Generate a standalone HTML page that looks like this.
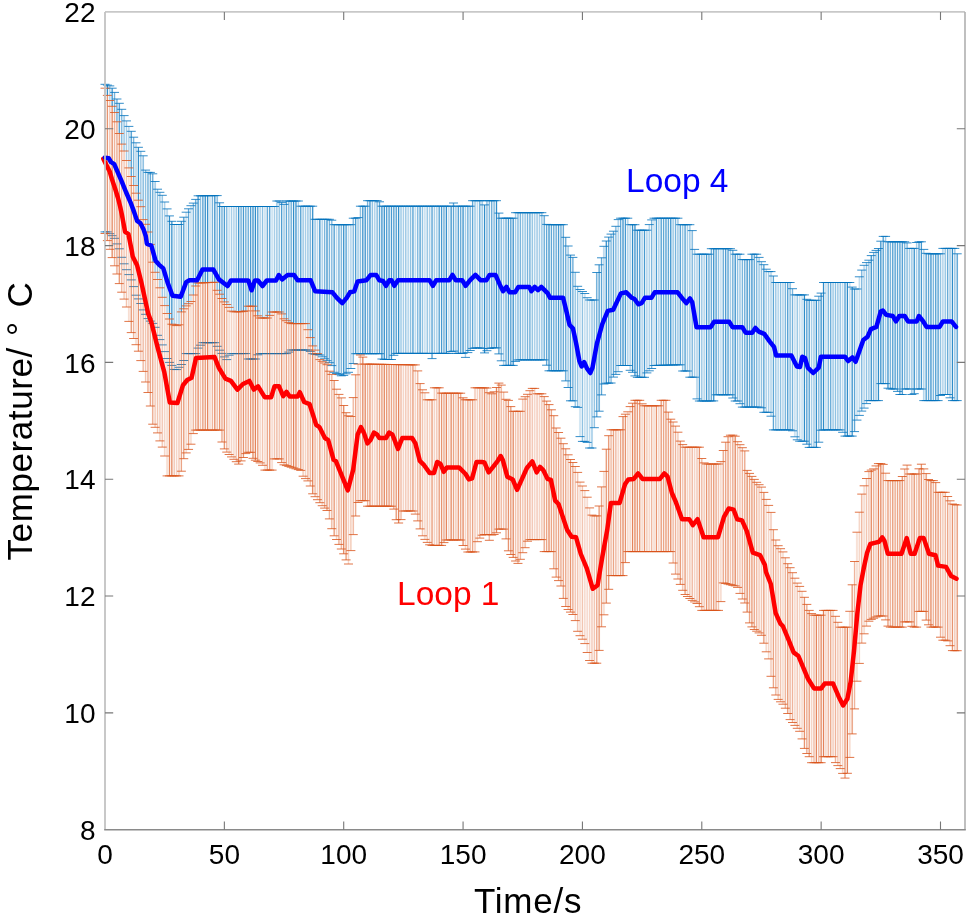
<!DOCTYPE html>
<html><head><meta charset="utf-8"><style>
html,body{margin:0;padding:0;background:#fff;}
svg{display:block;}
text{font-family:"Liberation Sans",Arial,sans-serif;}
</style></head><body>
<svg width="968" height="917" viewBox="0 0 968 917">
<rect width="968" height="917" fill="#fff"/>
<path d="M103.81 84.3h2.387V88.2h-2.387ZM106.19 85.1h2.387V95.4h-2.387ZM108.58 85.9h2.387V100.5h-2.387ZM110.97 88.2h2.387V106.3h-2.387ZM113.35 92.4h2.387V112.5h-2.387ZM115.74 99.0h2.387V121.8h-2.387ZM118.13 103.3h2.387V133.5h-2.387ZM120.52 109.3h2.387V144.1h-2.387ZM122.90 115.6h2.387V151.0h-2.387ZM125.29 120.9h2.387V160.5h-2.387ZM127.68 126.4h2.387V167.9h-2.387ZM130.06 131.3h2.387V176.5h-2.387ZM132.45 137.2h2.387V185.5h-2.387ZM134.84 142.8h2.387V193.2h-2.387ZM137.23 147.3h2.387V200.2h-2.387ZM139.61 151.3h2.387V206.7h-2.387ZM142.00 155.8h2.387V219.6h-2.387ZM144.39 170.1h2.387V224.3h-2.387ZM146.77 172.4h2.387V232.0h-2.387ZM149.16 172.4h2.387V244.4h-2.387ZM151.55 173.8h2.387V262.2h-2.387ZM153.94 181.5h2.387V272.3h-2.387ZM156.32 189.2h2.387V279.5h-2.387ZM158.71 192.3h2.387V287.8h-2.387ZM161.10 195.3h2.387V297.3h-2.387ZM163.48 202.0h2.387V305.6h-2.387ZM165.87 208.9h2.387V313.5h-2.387ZM168.26 215.9h2.387V319.0h-2.387ZM170.65 221.3h2.387V324.2h-2.387ZM173.03 224.5h2.387V324.9h-2.387ZM175.42 224.5h2.387V325.6h-2.387ZM177.81 224.5h2.387V324.8h-2.387ZM180.19 221.3h2.387V311.9h-2.387ZM182.58 217.2h2.387V308.8h-2.387ZM184.97 212.2h2.387V305.9h-2.387ZM187.36 208.8h2.387V303.7h-2.387ZM189.74 205.7h2.387V301.5h-2.387ZM192.13 203.1h2.387V295.0h-2.387ZM194.52 199.4h2.387V286.0h-2.387ZM196.90 195.8h2.387V283.0h-2.387ZM199.29 195.8h2.387V282.9h-2.387ZM201.68 195.7h2.387V282.8h-2.387ZM204.07 195.7h2.387V282.7h-2.387ZM206.45 195.7h2.387V282.6h-2.387ZM208.84 195.7h2.387V282.5h-2.387ZM211.23 195.7h2.387V282.4h-2.387ZM213.62 195.6h2.387V282.3h-2.387ZM216.00 195.6h2.387V290.3h-2.387ZM218.39 202.8h2.387V294.2h-2.387ZM220.78 206.5h2.387V298.5h-2.387ZM223.16 206.5h2.387V301.9h-2.387ZM225.55 206.5h2.387V304.5h-2.387ZM227.94 206.5h2.387V307.4h-2.387ZM230.32 206.5h2.387V311.1h-2.387ZM232.71 206.5h2.387V311.8h-2.387ZM235.10 206.5h2.387V311.8h-2.387ZM237.49 206.5h2.387V311.8h-2.387ZM239.87 206.5h2.387V311.7h-2.387ZM242.26 206.5h2.387V311.4h-2.387ZM244.65 206.5h2.387V310.9h-2.387ZM247.03 206.5h2.387V306.2h-2.387ZM249.42 206.5h2.387V306.2h-2.387ZM251.81 206.5h2.387V306.2h-2.387ZM254.20 206.5h2.387V310.9h-2.387ZM256.58 206.5h2.387V315.8h-2.387ZM258.97 206.5h2.387V318.0h-2.387ZM261.36 206.5h2.387V318.0h-2.387ZM263.75 206.5h2.387V318.0h-2.387ZM266.13 206.5h2.387V318.0h-2.387ZM268.52 206.5h2.387V315.4h-2.387ZM270.91 206.5h2.387V312.0h-2.387ZM273.29 206.5h2.387V312.0h-2.387ZM275.68 201.0h2.387V312.0h-2.387ZM278.07 201.0h2.387V312.0h-2.387ZM280.45 202.6h2.387V313.9h-2.387ZM282.84 204.4h2.387V318.8h-2.387ZM285.23 201.0h2.387V320.7h-2.387ZM287.62 201.0h2.387V322.6h-2.387ZM290.00 201.0h2.387V323.6h-2.387ZM292.39 201.0h2.387V323.6h-2.387ZM294.78 201.0h2.387V323.6h-2.387ZM297.16 201.0h2.387V323.6h-2.387ZM299.55 206.2h2.387V323.6h-2.387ZM301.94 206.2h2.387V323.6h-2.387ZM304.33 206.2h2.387V323.6h-2.387ZM306.71 206.2h2.387V329.7h-2.387ZM309.10 206.2h2.387V337.6h-2.387ZM311.49 206.2h2.387V345.9h-2.387ZM313.88 219.3h2.387V350.1h-2.387ZM316.26 219.3h2.387V353.6h-2.387ZM318.65 219.3h2.387V355.0h-2.387ZM321.04 219.3h2.387V356.8h-2.387ZM323.42 219.3h2.387V358.8h-2.387ZM325.81 219.3h2.387V360.7h-2.387ZM328.20 219.3h2.387V362.7h-2.387ZM330.58 220.2h2.387V365.6h-2.387ZM332.97 224.7h2.387V372.3h-2.387ZM335.36 224.7h2.387V373.5h-2.387ZM337.75 224.7h2.387V374.6h-2.387ZM340.13 224.7h2.387V375.8h-2.387ZM342.52 224.7h2.387V375.4h-2.387ZM344.91 224.7h2.387V373.8h-2.387ZM347.29 224.7h2.387V372.3h-2.387ZM349.68 224.7h2.387V368.5h-2.387ZM352.07 218.2h2.387V363.5h-2.387ZM354.46 218.2h2.387V353.7h-2.387ZM356.84 217.6h2.387V353.7h-2.387ZM359.23 206.2h2.387V353.7h-2.387ZM361.62 206.2h2.387V353.7h-2.387ZM364.00 206.2h2.387V353.7h-2.387ZM366.39 200.7h2.387V353.7h-2.387ZM368.78 200.7h2.387V353.7h-2.387ZM371.17 200.7h2.387V353.7h-2.387ZM373.55 200.7h2.387V353.7h-2.387ZM375.94 200.7h2.387V353.7h-2.387ZM378.33 201.8h2.387V353.7h-2.387ZM380.71 206.2h2.387V359.0h-2.387ZM383.10 206.2h2.387V359.5h-2.387ZM385.49 206.2h2.387V359.5h-2.387ZM387.88 206.2h2.387V359.5h-2.387ZM390.26 206.2h2.387V359.5h-2.387ZM392.65 206.2h2.387V355.3h-2.387ZM395.04 206.2h2.387V353.4h-2.387ZM397.42 206.2h2.387V353.4h-2.387ZM399.81 206.2h2.387V353.4h-2.387ZM402.20 206.2h2.387V353.4h-2.387ZM404.59 206.2h2.387V353.4h-2.387ZM406.97 206.2h2.387V353.4h-2.387ZM409.36 206.2h2.387V353.4h-2.387ZM411.75 206.2h2.387V353.4h-2.387ZM414.13 206.2h2.387V353.4h-2.387ZM416.52 206.2h2.387V353.4h-2.387ZM418.91 206.2h2.387V353.4h-2.387ZM421.30 206.2h2.387V353.4h-2.387ZM423.68 206.2h2.387V353.4h-2.387ZM426.07 206.2h2.387V353.4h-2.387ZM428.46 206.2h2.387V353.4h-2.387ZM430.84 206.2h2.387V358.6h-2.387ZM433.23 206.2h2.387V353.4h-2.387ZM435.62 206.2h2.387V353.4h-2.387ZM438.01 206.2h2.387V353.4h-2.387ZM440.39 206.2h2.387V353.4h-2.387ZM442.78 206.2h2.387V353.4h-2.387ZM445.17 206.2h2.387V353.4h-2.387ZM447.55 206.2h2.387V353.4h-2.387ZM449.94 206.2h2.387V351.5h-2.387ZM452.33 203.0h2.387V351.1h-2.387ZM454.72 206.2h2.387V353.4h-2.387ZM457.10 206.2h2.387V353.4h-2.387ZM459.49 206.2h2.387V353.4h-2.387ZM461.88 206.2h2.387V353.4h-2.387ZM464.26 206.2h2.387V357.4h-2.387ZM466.65 206.2h2.387V352.6h-2.387ZM469.04 206.2h2.387V350.5h-2.387ZM471.43 200.7h2.387V348.4h-2.387ZM473.81 200.7h2.387V347.9h-2.387ZM476.20 200.7h2.387V347.9h-2.387ZM478.59 200.7h2.387V347.9h-2.387ZM480.97 200.7h2.387V348.4h-2.387ZM483.36 204.9h2.387V352.9h-2.387ZM485.75 200.7h2.387V350.7h-2.387ZM488.14 200.7h2.387V348.5h-2.387ZM490.52 200.7h2.387V347.9h-2.387ZM492.91 200.7h2.387V347.9h-2.387ZM495.30 200.7h2.387V347.9h-2.387ZM497.69 213.1h2.387V353.9h-2.387ZM500.07 218.2h2.387V360.8h-2.387ZM502.46 218.2h2.387V365.4h-2.387ZM504.85 218.2h2.387V365.4h-2.387ZM507.23 218.2h2.387V365.4h-2.387ZM509.62 218.2h2.387V365.4h-2.387ZM512.01 218.2h2.387V365.4h-2.387ZM514.39 212.7h2.387V361.4h-2.387ZM516.78 212.7h2.387V359.9h-2.387ZM519.17 212.7h2.387V359.9h-2.387ZM521.56 212.7h2.387V359.9h-2.387ZM523.94 212.7h2.387V359.9h-2.387ZM526.33 212.7h2.387V359.9h-2.387ZM528.72 212.7h2.387V359.9h-2.387ZM531.11 212.7h2.387V359.9h-2.387ZM533.49 212.7h2.387V359.9h-2.387ZM535.88 212.7h2.387V359.9h-2.387ZM538.27 212.7h2.387V359.9h-2.387ZM540.65 212.7h2.387V359.9h-2.387ZM543.04 215.7h2.387V359.9h-2.387ZM545.43 224.4h2.387V365.2h-2.387ZM547.82 224.7h2.387V370.8h-2.387ZM550.20 224.7h2.387V370.8h-2.387ZM552.59 224.7h2.387V370.8h-2.387ZM554.98 224.7h2.387V370.8h-2.387ZM557.36 224.7h2.387V370.8h-2.387ZM559.75 224.7h2.387V370.8h-2.387ZM562.14 224.7h2.387V370.8h-2.387ZM564.52 237.3h2.387V380.9h-2.387ZM566.91 246.0h2.387V387.5h-2.387ZM569.30 255.1h2.387V400.8h-2.387ZM571.69 257.4h2.387V400.8h-2.387ZM574.07 272.3h2.387V406.7h-2.387ZM576.46 286.3h2.387V407.4h-2.387ZM578.85 289.5h2.387V436.6h-2.387ZM581.23 291.5h2.387V441.4h-2.387ZM583.62 293.5h2.387V441.4h-2.387ZM586.01 297.7h2.387V442.4h-2.387ZM588.40 300.0h2.387V448.0h-2.387ZM590.78 300.0h2.387V448.0h-2.387ZM593.17 300.0h2.387V427.7h-2.387ZM595.56 272.5h2.387V416.9h-2.387ZM597.94 264.8h2.387V411.2h-2.387ZM600.33 257.8h2.387V394.9h-2.387ZM602.72 246.3h2.387V384.0h-2.387ZM605.11 241.0h2.387V383.2h-2.387ZM607.49 237.1h2.387V383.2h-2.387ZM609.88 234.1h2.387V383.0h-2.387ZM612.27 231.2h2.387V377.1h-2.387ZM614.65 226.3h2.387V374.4h-2.387ZM617.04 219.6h2.387V371.7h-2.387ZM619.43 218.2h2.387V365.5h-2.387ZM621.82 218.2h2.387V365.5h-2.387ZM624.20 218.2h2.387V365.5h-2.387ZM626.59 218.2h2.387V365.5h-2.387ZM628.98 224.7h2.387V370.3h-2.387ZM631.37 224.7h2.387V372.3h-2.387ZM633.75 224.7h2.387V375.9h-2.387ZM636.14 230.2h2.387V377.3h-2.387ZM638.53 230.2h2.387V377.3h-2.387ZM640.91 230.2h2.387V377.3h-2.387ZM643.30 230.2h2.387V377.3h-2.387ZM645.69 230.2h2.387V372.9h-2.387ZM648.07 224.6h2.387V370.8h-2.387ZM650.46 219.9h2.387V368.5h-2.387ZM652.85 218.2h2.387V365.5h-2.387ZM655.24 218.2h2.387V365.4h-2.387ZM657.62 218.2h2.387V365.3h-2.387ZM660.01 218.2h2.387V365.3h-2.387ZM662.40 218.2h2.387V365.2h-2.387ZM664.78 218.2h2.387V365.2h-2.387ZM667.17 218.2h2.387V365.1h-2.387ZM669.56 218.2h2.387V365.0h-2.387ZM671.95 218.2h2.387V365.0h-2.387ZM674.33 218.2h2.387V364.9h-2.387ZM676.72 218.2h2.387V364.9h-2.387ZM679.11 224.7h2.387V364.8h-2.387ZM681.50 224.7h2.387V371.0h-2.387ZM683.88 224.7h2.387V371.0h-2.387ZM686.27 224.7h2.387V371.0h-2.387ZM688.66 224.7h2.387V377.2h-2.387ZM691.04 230.6h2.387V377.2h-2.387ZM693.43 249.4h2.387V377.2h-2.387ZM695.82 254.2h2.387V398.9h-2.387ZM698.20 254.2h2.387V401.0h-2.387ZM700.59 254.2h2.387V401.0h-2.387ZM702.98 254.2h2.387V401.0h-2.387ZM705.37 254.2h2.387V401.0h-2.387ZM707.75 254.2h2.387V401.0h-2.387ZM710.14 248.7h2.387V401.0h-2.387ZM712.53 248.7h2.387V400.9h-2.387ZM714.91 248.7h2.387V394.8h-2.387ZM717.30 248.7h2.387V394.8h-2.387ZM719.69 248.7h2.387V394.8h-2.387ZM722.08 248.7h2.387V394.8h-2.387ZM724.46 248.7h2.387V394.8h-2.387ZM726.85 248.7h2.387V394.8h-2.387ZM729.24 248.7h2.387V394.8h-2.387ZM731.62 250.3h2.387V398.0h-2.387ZM734.01 254.2h2.387V401.0h-2.387ZM736.40 254.2h2.387V401.0h-2.387ZM738.79 254.2h2.387V403.7h-2.387ZM741.17 259.6h2.387V407.1h-2.387ZM743.56 259.6h2.387V407.1h-2.387ZM745.95 259.6h2.387V407.1h-2.387ZM748.33 259.6h2.387V407.1h-2.387ZM750.72 254.2h2.387V407.1h-2.387ZM753.11 254.2h2.387V407.1h-2.387ZM755.50 254.2h2.387V407.1h-2.387ZM757.88 257.4h2.387V407.1h-2.387ZM760.27 261.7h2.387V407.8h-2.387ZM762.66 264.7h2.387V412.3h-2.387ZM765.04 269.2h2.387V412.3h-2.387ZM767.43 271.6h2.387V412.3h-2.387ZM769.82 271.6h2.387V416.2h-2.387ZM772.21 276.0h2.387V429.9h-2.387ZM774.59 282.5h2.387V429.9h-2.387ZM776.98 282.5h2.387V429.9h-2.387ZM779.37 282.5h2.387V429.9h-2.387ZM781.75 282.5h2.387V429.9h-2.387ZM784.14 282.5h2.387V429.9h-2.387ZM786.53 282.5h2.387V429.9h-2.387ZM788.92 282.5h2.387V429.9h-2.387ZM791.30 288.7h2.387V430.8h-2.387ZM793.69 294.9h2.387V436.8h-2.387ZM796.08 294.9h2.387V439.8h-2.387ZM798.46 294.9h2.387V441.2h-2.387ZM800.85 294.9h2.387V441.2h-2.387ZM803.24 294.9h2.387V441.2h-2.387ZM805.63 299.3h2.387V444.2h-2.387ZM808.01 300.3h2.387V447.4h-2.387ZM810.40 300.3h2.387V447.4h-2.387ZM812.79 300.3h2.387V447.4h-2.387ZM815.17 300.3h2.387V447.4h-2.387ZM817.56 296.2h2.387V442.2h-2.387ZM819.95 293.1h2.387V430.2h-2.387ZM822.34 282.5h2.387V429.9h-2.387ZM824.72 282.5h2.387V429.9h-2.387ZM827.11 282.5h2.387V429.9h-2.387ZM829.50 282.5h2.387V429.9h-2.387ZM831.88 282.5h2.387V429.9h-2.387ZM834.27 282.5h2.387V429.9h-2.387ZM836.66 282.5h2.387V429.9h-2.387ZM839.05 282.5h2.387V429.9h-2.387ZM841.43 282.5h2.387V432.3h-2.387ZM843.82 282.5h2.387V436.1h-2.387ZM846.21 282.5h2.387V436.1h-2.387ZM848.59 282.5h2.387V436.1h-2.387ZM850.98 287.1h2.387V436.1h-2.387ZM853.37 289.0h2.387V431.6h-2.387ZM855.76 289.0h2.387V420.1h-2.387ZM858.14 276.8h2.387V415.4h-2.387ZM860.53 270.1h2.387V411.1h-2.387ZM862.92 265.3h2.387V408.1h-2.387ZM865.30 262.6h2.387V403.6h-2.387ZM867.69 260.2h2.387V400.6h-2.387ZM870.08 255.6h2.387V400.6h-2.387ZM872.47 252.4h2.387V400.6h-2.387ZM874.85 250.4h2.387V400.6h-2.387ZM877.24 248.5h2.387V400.6h-2.387ZM879.63 241.2h2.387V383.6h-2.387ZM882.01 236.4h2.387V383.6h-2.387ZM884.40 236.4h2.387V383.6h-2.387ZM886.79 241.8h2.387V388.2h-2.387ZM889.18 241.8h2.387V389.0h-2.387ZM891.56 241.8h2.387V389.0h-2.387ZM893.95 241.8h2.387V389.0h-2.387ZM896.34 241.8h2.387V391.4h-2.387ZM898.72 241.8h2.387V394.5h-2.387ZM901.11 241.8h2.387V394.5h-2.387ZM903.50 241.8h2.387V389.0h-2.387ZM905.89 242.9h2.387V389.0h-2.387ZM908.27 248.4h2.387V389.0h-2.387ZM910.66 248.4h2.387V394.5h-2.387ZM913.05 248.4h2.387V393.7h-2.387ZM915.43 242.5h2.387V389.0h-2.387ZM917.82 241.8h2.387V389.0h-2.387ZM920.21 241.8h2.387V389.0h-2.387ZM922.60 249.4h2.387V400.6h-2.387ZM924.98 253.3h2.387V400.6h-2.387ZM927.37 253.8h2.387V400.6h-2.387ZM929.76 253.8h2.387V400.6h-2.387ZM932.14 253.8h2.387V400.6h-2.387ZM934.53 253.8h2.387V400.6h-2.387ZM936.92 253.8h2.387V400.6h-2.387ZM939.31 253.8h2.387V395.5h-2.387ZM941.69 248.4h2.387V394.5h-2.387ZM944.08 248.4h2.387V394.5h-2.387ZM946.47 248.4h2.387V394.5h-2.387ZM948.85 248.4h2.387V397.8h-2.387ZM951.24 248.4h2.387V400.6h-2.387ZM953.63 248.4h2.387V400.6h-2.387ZM956.02 253.8h2.387V400.6h-2.387Z" fill="#0072BD" fill-opacity="0.06"/><path d="M176.61 224.5V325.6M186.16 212.2V305.9M190.94 205.7V301.5M210.03 195.7V282.5M229.13 206.5V307.4M264.94 206.5V318.0M272.10 206.5V312.0M317.46 219.3V353.6M336.55 224.7V373.5M348.49 224.7V372.3M415.33 206.2V353.4M424.88 206.2V353.4M448.75 206.2V353.4M477.39 200.7V347.9M580.04 289.5V436.6M584.82 293.5V441.4M589.59 300.0V448.0M654.04 218.2V365.5M720.88 248.7V394.8M794.88 294.9V436.8M799.66 294.9V441.2M802.05 294.9V441.2M825.92 282.5V429.9M842.63 282.5V432.3M849.79 282.5V436.1M856.95 289.0V420.1M859.34 276.8V415.4" stroke="#0072BD" stroke-width="1.2" stroke-opacity="0.2" fill="none"/><path d="M105.00 84.3V88.2M109.77 85.9V100.5M126.48 120.9V160.5M128.87 126.4V167.9M136.03 142.8V193.2M164.68 202.0V305.6M167.07 208.9V313.5M174.23 224.5V324.9M179.00 224.5V324.8M231.52 206.5V311.1M233.91 206.5V311.8M260.16 206.5V318.0M274.49 206.5V312.0M298.36 201.0V323.6M305.52 206.2V323.6M322.23 219.3V356.8M350.88 224.7V368.5M374.75 200.7V353.7M403.39 206.2V353.4M408.17 206.2V353.4M429.65 206.2V353.4M434.43 206.2V353.4M436.81 206.2V353.4M465.46 206.2V357.4M503.65 218.2V365.4M515.59 212.7V361.4M534.69 212.7V359.9M539.46 212.7V359.9M587.20 297.7V442.4M603.91 246.3V384.0M618.24 219.6V371.7M627.78 218.2V365.5M630.17 224.7V370.3M642.11 230.2V377.3M646.88 230.2V372.9M649.27 224.6V370.8M658.82 218.2V365.3M687.46 224.7V371.0M694.62 249.4V377.2M697.01 254.2V398.9M704.17 254.2V401.0M730.43 248.7V394.8M766.24 269.2V412.3M768.63 271.6V412.3M771.01 271.6V416.2M778.17 282.5V429.9M782.95 282.5V429.9M811.59 300.3V447.4M864.11 265.3V408.1M885.60 236.4V383.6M909.47 248.4V389.0M916.63 242.5V389.0M923.79 249.4V400.6M942.89 248.4V394.5" stroke="#0072BD" stroke-width="1.2" stroke-opacity="0.3" fill="none"/><path d="M124.10 115.6V151.0M140.81 151.3V206.7M145.58 170.1V224.3M155.13 181.5V272.3M157.52 189.2V279.5M159.90 192.3V287.8M162.29 195.3V297.3M200.49 195.8V282.9M236.29 206.5V311.8M262.55 206.5V318.0M276.87 201.0V312.0M279.26 201.0V312.0M284.04 204.4V318.8M303.13 206.2V323.6M307.91 206.2V329.7M315.07 219.3V350.1M358.04 217.6V353.7M360.42 206.2V353.7M372.36 200.7V353.7M401.01 206.2V353.4M405.78 206.2V353.4M410.55 206.2V353.4M422.49 206.2V353.4M427.26 206.2V353.4M455.91 206.2V353.4M475.01 200.7V347.9M482.17 200.7V348.4M522.75 212.7V359.9M525.14 212.7V359.9M532.30 212.7V359.9M537.07 212.7V359.9M541.85 212.7V359.9M568.11 246.0V387.5M575.27 272.3V406.7M577.65 286.3V407.4M582.43 291.5V441.4M591.98 300.0V448.0M594.36 300.0V427.7M673.14 218.2V365.0M677.91 218.2V364.9M682.69 224.7V371.0M689.85 224.7V377.2M701.79 254.2V401.0M718.50 248.7V394.8M737.59 254.2V401.0M739.98 254.2V403.7M759.08 257.4V407.1M761.46 261.7V407.8M775.79 282.5V429.9M780.56 282.5V429.9M797.27 294.9V439.8M813.98 300.3V447.4M833.08 282.5V429.9M835.47 282.5V429.9M837.85 282.5V429.9M840.24 282.5V429.9M866.50 262.6V403.6M868.89 260.2V400.6M876.05 250.4V400.6M911.85 248.4V394.5M940.50 253.8V395.5M945.27 248.4V394.5M950.05 248.4V397.8M954.82 248.4V400.6" stroke="#0072BD" stroke-width="1.2" stroke-opacity="0.4" fill="none"/><path d="M114.55 92.4V112.5M121.71 109.3V144.1M133.65 137.2V185.5M143.19 155.8V219.6M193.32 203.1V295.0M212.42 195.7V282.4M217.20 195.6V290.3M226.74 206.5V304.5M288.81 201.0V322.6M310.29 206.2V337.6M324.62 219.3V358.8M329.39 219.3V362.7M331.78 220.2V365.6M341.33 224.7V375.8M353.26 218.2V363.5M367.59 200.7V353.7M377.13 200.7V353.7M417.72 206.2V353.4M470.23 206.2V350.5M486.94 200.7V350.7M489.33 200.7V348.5M494.10 200.7V347.9M501.27 218.2V360.8M517.98 212.7V359.9M520.36 212.7V359.9M527.52 212.7V359.9M611.07 234.1V383.0M615.85 226.3V374.4M651.66 219.9V368.5M675.53 218.2V364.9M692.24 230.6V377.2M742.37 259.6V407.1M756.69 254.2V407.1M785.34 282.5V429.9M790.11 282.5V429.9M792.50 288.7V430.8M818.76 296.2V442.2M828.30 282.5V429.9M861.72 270.1V411.1M873.66 252.4V400.6M890.37 241.8V389.0M904.69 241.8V389.0M907.08 242.9V389.0M933.34 253.8V400.6" stroke="#0072BD" stroke-width="1.2" stroke-opacity="0.5" fill="none"/><path d="M116.94 99.0V121.8M147.97 172.4V232.0M150.36 172.4V244.4M152.74 173.8V262.2M188.55 208.8V303.7M195.71 199.4V286.0M221.97 206.5V298.5M241.07 206.5V311.7M245.84 206.5V310.9M248.23 206.5V306.2M267.33 206.5V318.0M286.42 201.0V320.7M291.20 201.0V323.6M338.94 224.7V374.6M379.52 201.8V353.7M443.97 206.2V353.4M453.52 203.0V351.1M460.68 206.2V353.4M467.85 206.2V352.6M472.62 200.7V348.4M479.78 200.7V347.9M491.72 200.7V347.9M506.04 218.2V365.4M529.91 212.7V359.9M544.23 215.7V359.9M546.62 224.4V365.2M551.40 224.7V370.8M553.78 224.7V370.8M556.17 224.7V370.8M560.94 224.7V370.8M563.33 224.7V370.8M565.72 237.3V380.9M572.88 257.4V400.8M596.75 272.5V416.9M601.53 257.8V394.9M613.46 231.2V377.1M620.62 218.2V365.5M663.59 218.2V365.2M668.37 218.2V365.1M708.95 254.2V401.0M711.33 248.7V401.0M723.27 248.7V394.8M732.82 250.3V398.0M744.75 259.6V407.1M749.53 259.6V407.1M754.30 254.2V407.1M773.40 276.0V429.9M830.69 282.5V429.9M854.56 289.0V431.6M897.53 241.8V391.4M928.56 253.8V400.6M947.66 248.4V394.5" stroke="#0072BD" stroke-width="1.2" stroke-opacity="0.6" fill="none"/><path d="M119.32 103.3V133.5M131.26 131.3V176.5M181.39 221.3V311.9M183.78 217.2V308.8M202.87 195.7V282.8M219.58 202.8V294.2M224.36 206.5V301.9M243.45 206.5V311.4M250.62 206.5V306.2M257.78 206.5V315.8M269.71 206.5V315.4M281.65 202.6V313.9M300.75 206.2V323.6M334.17 224.7V372.3M346.10 224.7V373.8M355.65 218.2V353.7M386.68 206.2V359.5M389.07 206.2V359.5M391.46 206.2V359.5M393.84 206.2V355.3M396.23 206.2V353.4M412.94 206.2V353.4M420.10 206.2V353.4M432.04 206.2V358.6M439.20 206.2V353.4M441.59 206.2V353.4M458.30 206.2V353.4M498.88 213.1V353.9M508.43 218.2V365.4M510.81 218.2V365.4M558.56 224.7V370.8M570.49 255.1V400.8M599.14 264.8V411.2M608.69 237.1V383.2M625.40 218.2V365.5M637.33 230.2V377.3M639.72 230.2V377.3M644.49 230.2V377.3M656.43 218.2V365.4M661.20 218.2V365.3M665.98 218.2V365.2M680.30 224.7V364.8M685.08 224.7V371.0M699.40 254.2V401.0M706.56 254.2V401.0M716.11 248.7V394.8M725.66 248.7V394.8M728.04 248.7V394.8M763.85 264.7V412.3M787.72 282.5V429.9M806.82 299.3V444.2M809.21 300.3V447.4M845.01 282.5V436.1M883.21 236.4V383.6M892.76 241.8V389.0M895.14 241.8V389.0M899.92 241.8V394.5M902.31 241.8V394.5M919.02 241.8V389.0M921.40 241.8V389.0M926.18 253.3V400.6M935.73 253.8V400.6M938.11 253.8V400.6M957.21 253.8V400.6" stroke="#0072BD" stroke-width="1.2" stroke-opacity="0.7" fill="none"/><path d="M107.39 85.1V95.4M112.16 88.2V106.3M138.42 147.3V200.2M169.45 215.9V319.0M171.84 221.3V324.2M198.10 195.8V283.0M205.26 195.7V282.7M207.65 195.7V282.6M214.81 195.6V282.3M238.68 206.5V311.8M253.00 206.5V306.2M255.39 206.5V310.9M293.58 201.0V323.6M295.97 201.0V323.6M312.68 206.2V345.9M319.84 219.3V355.0M327.00 219.3V360.7M343.71 224.7V375.4M362.81 206.2V353.7M365.20 206.2V353.7M369.97 200.7V353.7M381.91 206.2V359.0M384.30 206.2V359.5M398.62 206.2V353.4M446.36 206.2V353.4M451.14 206.2V351.5M463.07 206.2V353.4M484.56 204.9V352.9M496.49 200.7V347.9M513.20 218.2V365.4M549.01 224.7V370.8M606.30 241.0V383.2M623.01 218.2V365.5M632.56 224.7V372.3M634.95 224.7V375.9M670.75 218.2V365.0M713.72 248.7V400.9M735.21 254.2V401.0M747.14 259.6V407.1M751.92 254.2V407.1M804.43 294.9V441.2M816.37 300.3V447.4M821.14 293.1V430.2M823.53 282.5V429.9M847.40 282.5V436.1M852.18 287.1V436.1M871.27 255.6V400.6M878.43 248.5V400.6M880.82 241.2V383.6M887.98 241.8V388.2M914.24 248.4V393.7M930.95 253.8V400.6M952.44 248.4V400.6" stroke="#0072BD" stroke-width="1.2" stroke-opacity="0.8" fill="none"/><path d="M100.50 84.3h9.0M100.50 231.9h9.0M102.89 85.1h9.0M102.89 231.9h9.0M105.27 85.9h9.0M105.27 233.7h9.0M107.66 88.2h9.0M107.66 235.7h9.0M110.05 92.4h9.0M110.05 238.3h9.0M112.44 99.0h9.0M112.44 243.9h9.0M114.82 103.3h9.0M114.82 248.8h9.0M117.21 109.3h9.0M117.21 257.3h9.0M119.60 115.6h9.0M119.60 263.8h9.0M121.98 120.9h9.0M121.98 269.7h9.0M124.37 126.4h9.0M124.37 274.6h9.0M126.76 131.3h9.0M126.76 279.9h9.0M129.15 137.2h9.0M129.15 286.6h9.0M131.53 142.8h9.0M131.53 295.2h9.0M133.92 147.3h9.0M133.92 298.9h9.0M136.31 151.3h9.0M136.31 303.5h9.0M138.69 155.8h9.0M138.69 309.9h9.0M141.08 170.1h9.0M141.08 314.3h9.0M143.47 172.4h9.0M143.47 318.6h9.0M145.86 172.4h9.0M145.86 321.1h9.0M148.24 173.8h9.0M148.24 323.4h9.0M150.63 181.5h9.0M150.63 327.3h9.0M153.02 189.2h9.0M153.02 335.3h9.0M155.40 192.3h9.0M155.40 339.6h9.0M157.79 195.3h9.0M157.79 344.9h9.0M160.18 202.0h9.0M160.18 351.6h9.0M162.57 208.9h9.0M162.57 358.5h9.0M164.95 215.9h9.0M164.95 362.4h9.0M167.34 221.3h9.0M167.34 365.4h9.0M169.73 224.5h9.0M169.73 369.4h9.0M172.11 224.5h9.0M172.11 369.6h9.0M174.50 224.5h9.0M174.50 367.3h9.0M176.89 221.3h9.0M176.89 364.5h9.0M179.28 217.2h9.0M179.28 360.5h9.0M181.66 212.2h9.0M181.66 353.6h9.0M184.05 208.8h9.0M184.05 353.6h9.0M186.44 205.7h9.0M186.44 353.6h9.0M188.82 203.1h9.0M188.82 353.6h9.0M191.21 199.4h9.0M191.21 353.6h9.0M193.60 195.8h9.0M193.60 348.1h9.0M195.99 195.8h9.0M195.99 345.2h9.0M198.37 195.7h9.0M198.37 342.7h9.0M200.76 195.7h9.0M200.76 342.7h9.0M203.15 195.7h9.0M203.15 342.7h9.0M205.53 195.7h9.0M205.53 342.7h9.0M207.92 195.7h9.0M207.92 342.7h9.0M210.31 195.6h9.0M210.31 342.7h9.0M212.70 195.6h9.0M212.70 346.3h9.0M215.08 202.8h9.0M215.08 350.2h9.0M217.47 206.5h9.0M217.47 353.4h9.0M219.86 206.5h9.0M219.86 356.9h9.0M222.24 206.5h9.0M222.24 359.6h9.0M224.63 206.5h9.0M224.63 355.2h9.0M227.02 206.5h9.0M227.02 353.6h9.0M229.41 206.5h9.0M229.41 353.6h9.0M231.79 206.5h9.0M231.79 353.6h9.0M234.18 206.5h9.0M234.18 353.6h9.0M236.57 206.5h9.0M236.57 353.6h9.0M238.95 206.5h9.0M238.95 353.6h9.0M241.34 206.5h9.0M241.34 353.6h9.0M243.73 206.5h9.0M243.73 359.0h9.0M246.12 206.5h9.0M246.12 359.0h9.0M248.50 206.5h9.0M248.50 359.0h9.0M250.89 206.5h9.0M250.89 359.0h9.0M253.28 206.5h9.0M253.28 354.8h9.0M255.66 206.5h9.0M255.66 353.6h9.0M258.05 206.5h9.0M258.05 353.6h9.0M260.44 206.5h9.0M260.44 353.6h9.0M262.83 206.5h9.0M262.83 353.6h9.0M265.21 206.5h9.0M265.21 353.6h9.0M267.60 206.5h9.0M267.60 353.6h9.0M269.99 206.5h9.0M269.99 353.6h9.0M272.37 201.0h9.0M272.37 353.6h9.0M274.76 201.0h9.0M274.76 353.6h9.0M277.15 202.6h9.0M277.15 353.6h9.0M279.54 204.4h9.0M279.54 353.6h9.0M281.92 201.0h9.0M281.92 353.6h9.0M284.31 201.0h9.0M284.31 352.1h9.0M286.70 201.0h9.0M286.70 350.0h9.0M289.08 201.0h9.0M289.08 350.0h9.0M291.47 201.0h9.0M291.47 350.0h9.0M293.86 201.0h9.0M293.86 350.0h9.0M296.25 206.2h9.0M296.25 350.0h9.0M298.63 206.2h9.0M298.63 350.0h9.0M301.02 206.2h9.0M301.02 350.0h9.0M303.41 206.2h9.0M303.41 350.0h9.0M305.79 206.2h9.0M305.79 351.4h9.0M308.18 206.2h9.0M308.18 353.7h9.0M310.57 219.3h9.0M310.57 354.2h9.0M312.96 219.3h9.0M312.96 354.6h9.0M315.34 219.3h9.0M315.34 355.0h9.0M317.73 219.3h9.0M317.73 356.8h9.0M320.12 219.3h9.0M320.12 358.8h9.0M322.50 219.3h9.0M322.50 360.7h9.0M324.89 219.3h9.0M324.89 362.7h9.0M327.28 220.2h9.0M327.28 365.6h9.0M329.67 224.7h9.0M329.67 372.3h9.0M332.05 224.7h9.0M332.05 373.5h9.0M334.44 224.7h9.0M334.44 374.6h9.0M336.83 224.7h9.0M336.83 375.8h9.0M339.21 224.7h9.0M339.21 375.4h9.0M341.60 224.7h9.0M341.60 373.8h9.0M343.99 224.7h9.0M343.99 372.3h9.0M346.38 224.7h9.0M346.38 368.5h9.0M348.76 218.2h9.0M348.76 363.5h9.0M351.15 218.2h9.0M351.15 353.7h9.0M353.54 217.6h9.0M353.54 353.7h9.0M355.92 206.2h9.0M355.92 353.7h9.0M358.31 206.2h9.0M358.31 353.7h9.0M360.70 206.2h9.0M360.70 353.7h9.0M363.09 200.7h9.0M363.09 353.7h9.0M365.47 200.7h9.0M365.47 353.7h9.0M367.86 200.7h9.0M367.86 353.7h9.0M370.25 200.7h9.0M370.25 353.7h9.0M372.63 200.7h9.0M372.63 353.7h9.0M375.02 201.8h9.0M375.02 353.7h9.0M377.41 206.2h9.0M377.41 359.0h9.0M379.80 206.2h9.0M379.80 359.5h9.0M382.18 206.2h9.0M382.18 359.5h9.0M384.57 206.2h9.0M384.57 359.5h9.0M386.96 206.2h9.0M386.96 359.5h9.0M389.34 206.2h9.0M389.34 355.3h9.0M391.73 206.2h9.0M391.73 353.4h9.0M394.12 206.2h9.0M394.12 353.4h9.0M396.51 206.2h9.0M396.51 353.4h9.0M398.89 206.2h9.0M398.89 353.4h9.0M401.28 206.2h9.0M401.28 353.4h9.0M403.67 206.2h9.0M403.67 353.4h9.0M406.05 206.2h9.0M406.05 353.4h9.0M408.44 206.2h9.0M408.44 353.4h9.0M410.83 206.2h9.0M410.83 353.4h9.0M413.22 206.2h9.0M413.22 353.4h9.0M415.60 206.2h9.0M415.60 353.4h9.0M417.99 206.2h9.0M417.99 353.4h9.0M420.38 206.2h9.0M420.38 353.4h9.0M422.76 206.2h9.0M422.76 353.4h9.0M425.15 206.2h9.0M425.15 353.4h9.0M427.54 206.2h9.0M427.54 358.6h9.0M429.93 206.2h9.0M429.93 353.4h9.0M432.31 206.2h9.0M432.31 353.4h9.0M434.70 206.2h9.0M434.70 353.4h9.0M437.09 206.2h9.0M437.09 353.4h9.0M439.47 206.2h9.0M439.47 353.4h9.0M441.86 206.2h9.0M441.86 353.4h9.0M444.25 206.2h9.0M444.25 353.4h9.0M446.64 206.2h9.0M446.64 351.5h9.0M449.02 203.0h9.0M449.02 351.1h9.0M451.41 206.2h9.0M451.41 353.4h9.0M453.80 206.2h9.0M453.80 353.4h9.0M456.18 206.2h9.0M456.18 353.4h9.0M458.57 206.2h9.0M458.57 353.4h9.0M460.96 206.2h9.0M460.96 357.4h9.0M463.35 206.2h9.0M463.35 352.6h9.0M465.73 206.2h9.0M465.73 350.5h9.0M468.12 200.7h9.0M468.12 348.4h9.0M470.51 200.7h9.0M470.51 347.9h9.0M472.89 200.7h9.0M472.89 347.9h9.0M475.28 200.7h9.0M475.28 347.9h9.0M477.67 200.7h9.0M477.67 348.4h9.0M480.06 204.9h9.0M480.06 352.9h9.0M482.44 200.7h9.0M482.44 350.7h9.0M484.83 200.7h9.0M484.83 348.5h9.0M487.22 200.7h9.0M487.22 347.9h9.0M489.60 200.7h9.0M489.60 347.9h9.0M491.99 200.7h9.0M491.99 347.9h9.0M494.38 213.1h9.0M494.38 353.9h9.0M496.77 218.2h9.0M496.77 360.8h9.0M499.15 218.2h9.0M499.15 365.4h9.0M501.54 218.2h9.0M501.54 365.4h9.0M503.93 218.2h9.0M503.93 365.4h9.0M506.31 218.2h9.0M506.31 365.4h9.0M508.70 218.2h9.0M508.70 365.4h9.0M511.09 212.7h9.0M511.09 361.4h9.0M513.48 212.7h9.0M513.48 359.9h9.0M515.86 212.7h9.0M515.86 359.9h9.0M518.25 212.7h9.0M518.25 359.9h9.0M520.64 212.7h9.0M520.64 359.9h9.0M523.02 212.7h9.0M523.02 359.9h9.0M525.41 212.7h9.0M525.41 359.9h9.0M527.80 212.7h9.0M527.80 359.9h9.0M530.19 212.7h9.0M530.19 359.9h9.0M532.57 212.7h9.0M532.57 359.9h9.0M534.96 212.7h9.0M534.96 359.9h9.0M537.35 212.7h9.0M537.35 359.9h9.0M539.73 215.7h9.0M539.73 359.9h9.0M542.12 224.4h9.0M542.12 365.2h9.0M544.51 224.7h9.0M544.51 370.8h9.0M546.90 224.7h9.0M546.90 370.8h9.0M549.28 224.7h9.0M549.28 370.8h9.0M551.67 224.7h9.0M551.67 370.8h9.0M554.06 224.7h9.0M554.06 370.8h9.0M556.44 224.7h9.0M556.44 370.8h9.0M558.83 224.7h9.0M558.83 370.8h9.0M561.22 237.3h9.0M561.22 380.9h9.0M563.61 246.0h9.0M563.61 387.5h9.0M565.99 255.1h9.0M565.99 400.8h9.0M568.38 257.4h9.0M568.38 400.8h9.0M570.77 272.3h9.0M570.77 406.7h9.0M573.15 286.3h9.0M573.15 407.4h9.0M575.54 289.5h9.0M575.54 436.6h9.0M577.93 291.5h9.0M577.93 441.4h9.0M580.32 293.5h9.0M580.32 441.4h9.0M582.70 297.7h9.0M582.70 442.4h9.0M585.09 300.0h9.0M585.09 448.0h9.0M587.48 300.0h9.0M587.48 448.0h9.0M589.86 300.0h9.0M589.86 427.7h9.0M592.25 272.5h9.0M592.25 416.9h9.0M594.64 264.8h9.0M594.64 411.2h9.0M597.03 257.8h9.0M597.03 394.9h9.0M599.41 246.3h9.0M599.41 384.0h9.0M601.80 241.0h9.0M601.80 383.2h9.0M604.19 237.1h9.0M604.19 383.2h9.0M606.57 234.1h9.0M606.57 383.0h9.0M608.96 231.2h9.0M608.96 377.1h9.0M611.35 226.3h9.0M611.35 374.4h9.0M613.74 219.6h9.0M613.74 371.7h9.0M616.12 218.2h9.0M616.12 365.5h9.0M618.51 218.2h9.0M618.51 365.5h9.0M620.90 218.2h9.0M620.90 365.5h9.0M623.28 218.2h9.0M623.28 365.5h9.0M625.67 224.7h9.0M625.67 370.3h9.0M628.06 224.7h9.0M628.06 372.3h9.0M630.45 224.7h9.0M630.45 375.9h9.0M632.83 230.2h9.0M632.83 377.3h9.0M635.22 230.2h9.0M635.22 377.3h9.0M637.61 230.2h9.0M637.61 377.3h9.0M639.99 230.2h9.0M639.99 377.3h9.0M642.38 230.2h9.0M642.38 372.9h9.0M644.77 224.6h9.0M644.77 370.8h9.0M647.16 219.9h9.0M647.16 368.5h9.0M649.54 218.2h9.0M649.54 365.5h9.0M651.93 218.2h9.0M651.93 365.4h9.0M654.32 218.2h9.0M654.32 365.3h9.0M656.70 218.2h9.0M656.70 365.3h9.0M659.09 218.2h9.0M659.09 365.2h9.0M661.48 218.2h9.0M661.48 365.2h9.0M663.87 218.2h9.0M663.87 365.1h9.0M666.25 218.2h9.0M666.25 365.0h9.0M668.64 218.2h9.0M668.64 365.0h9.0M671.03 218.2h9.0M671.03 364.9h9.0M673.41 218.2h9.0M673.41 364.9h9.0M675.80 224.7h9.0M675.80 364.8h9.0M678.19 224.7h9.0M678.19 371.0h9.0M680.58 224.7h9.0M680.58 371.0h9.0M682.96 224.7h9.0M682.96 371.0h9.0M685.35 224.7h9.0M685.35 377.2h9.0M687.74 230.6h9.0M687.74 377.2h9.0M690.12 249.4h9.0M690.12 377.2h9.0M692.51 254.2h9.0M692.51 398.9h9.0M694.90 254.2h9.0M694.90 401.0h9.0M697.29 254.2h9.0M697.29 401.0h9.0M699.67 254.2h9.0M699.67 401.0h9.0M702.06 254.2h9.0M702.06 401.0h9.0M704.45 254.2h9.0M704.45 401.0h9.0M706.83 248.7h9.0M706.83 401.0h9.0M709.22 248.7h9.0M709.22 400.9h9.0M711.61 248.7h9.0M711.61 394.8h9.0M714.00 248.7h9.0M714.00 394.8h9.0M716.38 248.7h9.0M716.38 394.8h9.0M718.77 248.7h9.0M718.77 394.8h9.0M721.16 248.7h9.0M721.16 394.8h9.0M723.54 248.7h9.0M723.54 394.8h9.0M725.93 248.7h9.0M725.93 394.8h9.0M728.32 250.3h9.0M728.32 398.0h9.0M730.71 254.2h9.0M730.71 401.0h9.0M733.09 254.2h9.0M733.09 401.0h9.0M735.48 254.2h9.0M735.48 403.7h9.0M737.87 259.6h9.0M737.87 407.1h9.0M740.25 259.6h9.0M740.25 407.1h9.0M742.64 259.6h9.0M742.64 407.1h9.0M745.03 259.6h9.0M745.03 407.1h9.0M747.42 254.2h9.0M747.42 407.1h9.0M749.80 254.2h9.0M749.80 407.1h9.0M752.19 254.2h9.0M752.19 407.1h9.0M754.58 257.4h9.0M754.58 407.1h9.0M756.96 261.7h9.0M756.96 407.8h9.0M759.35 264.7h9.0M759.35 412.3h9.0M761.74 269.2h9.0M761.74 412.3h9.0M764.13 271.6h9.0M764.13 412.3h9.0M766.51 271.6h9.0M766.51 416.2h9.0M768.90 276.0h9.0M768.90 429.9h9.0M771.29 282.5h9.0M771.29 429.9h9.0M773.67 282.5h9.0M773.67 429.9h9.0M776.06 282.5h9.0M776.06 429.9h9.0M778.45 282.5h9.0M778.45 429.9h9.0M780.84 282.5h9.0M780.84 429.9h9.0M783.22 282.5h9.0M783.22 429.9h9.0M785.61 282.5h9.0M785.61 429.9h9.0M788.00 288.7h9.0M788.00 430.8h9.0M790.38 294.9h9.0M790.38 436.8h9.0M792.77 294.9h9.0M792.77 439.8h9.0M795.16 294.9h9.0M795.16 441.2h9.0M797.55 294.9h9.0M797.55 441.2h9.0M799.93 294.9h9.0M799.93 441.2h9.0M802.32 299.3h9.0M802.32 444.2h9.0M804.71 300.3h9.0M804.71 447.4h9.0M807.09 300.3h9.0M807.09 447.4h9.0M809.48 300.3h9.0M809.48 447.4h9.0M811.87 300.3h9.0M811.87 447.4h9.0M814.26 296.2h9.0M814.26 442.2h9.0M816.64 293.1h9.0M816.64 430.2h9.0M819.03 282.5h9.0M819.03 429.9h9.0M821.42 282.5h9.0M821.42 429.9h9.0M823.80 282.5h9.0M823.80 429.9h9.0M826.19 282.5h9.0M826.19 429.9h9.0M828.58 282.5h9.0M828.58 429.9h9.0M830.97 282.5h9.0M830.97 429.9h9.0M833.35 282.5h9.0M833.35 429.9h9.0M835.74 282.5h9.0M835.74 429.9h9.0M838.13 282.5h9.0M838.13 432.3h9.0M840.51 282.5h9.0M840.51 436.1h9.0M842.90 282.5h9.0M842.90 436.1h9.0M845.29 282.5h9.0M845.29 436.1h9.0M847.68 287.1h9.0M847.68 436.1h9.0M850.06 289.0h9.0M850.06 431.6h9.0M852.45 289.0h9.0M852.45 420.1h9.0M854.84 276.8h9.0M854.84 415.4h9.0M857.22 270.1h9.0M857.22 411.1h9.0M859.61 265.3h9.0M859.61 408.1h9.0M862.00 262.6h9.0M862.00 403.6h9.0M864.39 260.2h9.0M864.39 400.6h9.0M866.77 255.6h9.0M866.77 400.6h9.0M869.16 252.4h9.0M869.16 400.6h9.0M871.55 250.4h9.0M871.55 400.6h9.0M873.93 248.5h9.0M873.93 400.6h9.0M876.32 241.2h9.0M876.32 383.6h9.0M878.71 236.4h9.0M878.71 383.6h9.0M881.10 236.4h9.0M881.10 383.6h9.0M883.48 241.8h9.0M883.48 388.2h9.0M885.87 241.8h9.0M885.87 389.0h9.0M888.26 241.8h9.0M888.26 389.0h9.0M890.64 241.8h9.0M890.64 389.0h9.0M893.03 241.8h9.0M893.03 391.4h9.0M895.42 241.8h9.0M895.42 394.5h9.0M897.81 241.8h9.0M897.81 394.5h9.0M900.19 241.8h9.0M900.19 389.0h9.0M902.58 242.9h9.0M902.58 389.0h9.0M904.97 248.4h9.0M904.97 389.0h9.0M907.35 248.4h9.0M907.35 394.5h9.0M909.74 248.4h9.0M909.74 393.7h9.0M912.13 242.5h9.0M912.13 389.0h9.0M914.52 241.8h9.0M914.52 389.0h9.0M916.90 241.8h9.0M916.90 389.0h9.0M919.29 249.4h9.0M919.29 400.6h9.0M921.68 253.3h9.0M921.68 400.6h9.0M924.06 253.8h9.0M924.06 400.6h9.0M926.45 253.8h9.0M926.45 400.6h9.0M928.84 253.8h9.0M928.84 400.6h9.0M931.23 253.8h9.0M931.23 400.6h9.0M933.61 253.8h9.0M933.61 400.6h9.0M936.00 253.8h9.0M936.00 395.5h9.0M938.39 248.4h9.0M938.39 394.5h9.0M940.77 248.4h9.0M940.77 394.5h9.0M943.16 248.4h9.0M943.16 394.5h9.0M945.55 248.4h9.0M945.55 397.8h9.0M947.94 248.4h9.0M947.94 400.6h9.0M950.32 248.4h9.0M950.32 400.6h9.0M952.71 253.8h9.0M952.71 400.6h9.0" stroke="#0072BD" stroke-width="1.0" stroke-opacity="0.8" fill="none"/><path d="M103.81 88.2h2.387V233.5h-2.387ZM106.19 95.4h2.387V240.6h-2.387ZM108.58 100.5h2.387V249.3h-2.387ZM110.97 106.3h2.387V257.6h-2.387ZM113.35 112.5h2.387V265.8h-2.387ZM115.74 121.8h2.387V274.0h-2.387ZM118.13 133.5h2.387V283.6h-2.387ZM120.52 144.1h2.387V292.2h-2.387ZM122.90 151.0h2.387V299.1h-2.387ZM125.29 160.5h2.387V307.0h-2.387ZM127.68 167.9h2.387V321.4h-2.387ZM130.06 176.5h2.387V332.6h-2.387ZM132.45 185.5h2.387V338.5h-2.387ZM134.84 193.2h2.387V344.7h-2.387ZM137.23 200.2h2.387V351.2h-2.387ZM139.61 206.7h2.387V360.6h-2.387ZM142.00 219.6h2.387V371.4h-2.387ZM144.39 224.3h2.387V382.0h-2.387ZM146.77 232.0h2.387V392.5h-2.387ZM149.16 244.4h2.387V406.0h-2.387ZM151.55 262.2h2.387V424.2h-2.387ZM153.94 272.3h2.387V427.3h-2.387ZM156.32 279.5h2.387V432.9h-2.387ZM158.71 287.8h2.387V440.9h-2.387ZM161.10 297.3h2.387V447.1h-2.387ZM163.48 305.6h2.387V456.0h-2.387ZM165.87 313.5h2.387V475.9h-2.387ZM168.26 319.0h2.387V475.9h-2.387ZM170.65 324.2h2.387V475.9h-2.387ZM173.03 324.9h2.387V475.9h-2.387ZM175.42 325.6h2.387V475.9h-2.387ZM177.81 324.8h2.387V475.9h-2.387ZM180.19 311.9h2.387V471.2h-2.387ZM182.58 308.8h2.387V458.7h-2.387ZM184.97 305.9h2.387V452.9h-2.387ZM187.36 303.7h2.387V449.4h-2.387ZM189.74 301.5h2.387V444.2h-2.387ZM192.13 295.0h2.387V433.6h-2.387ZM194.52 286.0h2.387V430.1h-2.387ZM196.90 283.0h2.387V430.1h-2.387ZM199.29 282.9h2.387V430.1h-2.387ZM201.68 282.8h2.387V430.1h-2.387ZM204.07 282.7h2.387V430.1h-2.387ZM206.45 282.6h2.387V430.1h-2.387ZM208.84 282.5h2.387V430.1h-2.387ZM211.23 282.4h2.387V430.1h-2.387ZM213.62 282.3h2.387V430.1h-2.387ZM216.00 290.3h2.387V430.1h-2.387ZM218.39 294.2h2.387V430.1h-2.387ZM220.78 298.5h2.387V442.0h-2.387ZM223.16 301.9h2.387V448.9h-2.387ZM225.55 304.5h2.387V452.1h-2.387ZM227.94 307.4h2.387V454.5h-2.387ZM230.32 311.1h2.387V456.9h-2.387ZM232.71 311.8h2.387V459.3h-2.387ZM235.10 311.8h2.387V461.7h-2.387ZM237.49 311.8h2.387V464.1h-2.387ZM239.87 311.7h2.387V460.9h-2.387ZM242.26 311.4h2.387V457.5h-2.387ZM244.65 310.9h2.387V453.6h-2.387ZM247.03 306.2h2.387V452.3h-2.387ZM249.42 306.2h2.387V452.3h-2.387ZM251.81 306.2h2.387V458.3h-2.387ZM254.20 310.9h2.387V460.2h-2.387ZM256.58 315.8h2.387V461.5h-2.387ZM258.97 318.0h2.387V462.9h-2.387ZM261.36 318.0h2.387V465.3h-2.387ZM263.75 318.0h2.387V470.1h-2.387ZM266.13 318.0h2.387V470.1h-2.387ZM268.52 315.4h2.387V470.1h-2.387ZM270.91 312.0h2.387V470.1h-2.387ZM273.29 312.0h2.387V458.9h-2.387ZM275.68 312.0h2.387V458.9h-2.387ZM278.07 312.0h2.387V458.9h-2.387ZM280.45 313.9h2.387V462.6h-2.387ZM282.84 318.8h2.387V464.8h-2.387ZM285.23 320.7h2.387V465.6h-2.387ZM287.62 322.6h2.387V466.4h-2.387ZM290.00 323.6h2.387V467.2h-2.387ZM292.39 323.6h2.387V468.0h-2.387ZM294.78 323.6h2.387V468.8h-2.387ZM297.16 323.6h2.387V469.6h-2.387ZM299.55 323.6h2.387V470.4h-2.387ZM301.94 323.6h2.387V476.2h-2.387ZM304.33 323.6h2.387V478.6h-2.387ZM306.71 329.7h2.387V480.9h-2.387ZM309.10 337.6h2.387V486.0h-2.387ZM311.49 345.9h2.387V493.8h-2.387ZM313.88 350.1h2.387V496.7h-2.387ZM316.26 353.6h2.387V499.7h-2.387ZM318.65 359.6h2.387V502.7h-2.387ZM321.04 361.3h2.387V505.7h-2.387ZM323.42 363.0h2.387V508.1h-2.387ZM325.81 364.7h2.387V510.5h-2.387ZM328.20 371.2h2.387V518.9h-2.387ZM330.58 374.4h2.387V528.7h-2.387ZM332.97 380.5h2.387V535.8h-2.387ZM335.36 389.2h2.387V539.5h-2.387ZM337.75 394.4h2.387V544.4h-2.387ZM340.13 397.9h2.387V549.0h-2.387ZM342.52 405.5h2.387V553.8h-2.387ZM344.91 412.7h2.387V559.9h-2.387ZM347.29 415.8h2.387V564.0h-2.387ZM349.68 416.5h2.387V550.6h-2.387ZM352.07 397.6h2.387V534.6h-2.387ZM354.46 374.8h2.387V516.0h-2.387ZM356.84 364.1h2.387V502.5h-2.387ZM359.23 355.0h2.387V500.7h-2.387ZM361.62 357.1h2.387V500.7h-2.387ZM364.00 364.1h2.387V500.7h-2.387ZM366.39 364.1h2.387V506.2h-2.387ZM368.78 364.1h2.387V506.2h-2.387ZM371.17 364.2h2.387V506.2h-2.387ZM373.55 364.2h2.387V506.2h-2.387ZM375.94 364.3h2.387V506.2h-2.387ZM378.33 364.3h2.387V506.2h-2.387ZM380.71 364.3h2.387V506.2h-2.387ZM383.10 364.4h2.387V506.2h-2.387ZM385.49 364.4h2.387V506.2h-2.387ZM387.88 364.5h2.387V506.2h-2.387ZM390.26 364.5h2.387V506.2h-2.387ZM392.65 364.5h2.387V509.1h-2.387ZM395.04 364.6h2.387V519.7h-2.387ZM397.42 364.6h2.387V523.0h-2.387ZM399.81 364.7h2.387V519.6h-2.387ZM402.20 364.7h2.387V511.0h-2.387ZM404.59 364.7h2.387V511.0h-2.387ZM406.97 364.8h2.387V511.0h-2.387ZM409.36 364.8h2.387V511.0h-2.387ZM411.75 364.9h2.387V511.0h-2.387ZM414.13 364.9h2.387V514.1h-2.387ZM416.52 370.9h2.387V520.9h-2.387ZM418.91 383.6h2.387V528.9h-2.387ZM421.30 389.8h2.387V535.8h-2.387ZM423.68 392.8h2.387V539.4h-2.387ZM426.07 399.8h2.387V542.4h-2.387ZM428.46 399.8h2.387V544.8h-2.387ZM430.84 399.8h2.387V545.4h-2.387ZM433.23 387.8h2.387V545.4h-2.387ZM435.62 387.8h2.387V545.4h-2.387ZM438.01 387.8h2.387V545.4h-2.387ZM440.39 393.1h2.387V545.4h-2.387ZM442.78 393.2h2.387V542.6h-2.387ZM445.17 393.2h2.387V540.0h-2.387ZM447.55 393.2h2.387V540.0h-2.387ZM449.94 393.2h2.387V540.0h-2.387ZM452.33 393.2h2.387V540.0h-2.387ZM454.72 393.2h2.387V540.0h-2.387ZM457.10 393.2h2.387V540.0h-2.387ZM459.49 393.2h2.387V540.0h-2.387ZM461.88 397.8h2.387V545.5h-2.387ZM464.26 399.8h2.387V549.1h-2.387ZM466.65 399.8h2.387V552.0h-2.387ZM469.04 399.8h2.387V552.0h-2.387ZM471.43 399.8h2.387V552.0h-2.387ZM473.81 387.8h2.387V551.9h-2.387ZM476.20 387.8h2.387V541.7h-2.387ZM478.59 387.8h2.387V538.1h-2.387ZM480.97 387.8h2.387V535.2h-2.387ZM483.36 387.8h2.387V534.5h-2.387ZM485.75 388.0h2.387V534.5h-2.387ZM488.14 392.7h2.387V540.3h-2.387ZM490.52 393.8h2.387V535.1h-2.387ZM492.91 391.8h2.387V534.5h-2.387ZM495.30 387.5h2.387V532.8h-2.387ZM497.69 383.1h2.387V529.1h-2.387ZM500.07 385.1h2.387V529.1h-2.387ZM502.46 392.1h2.387V529.1h-2.387ZM504.85 399.3h2.387V538.9h-2.387ZM507.23 400.4h2.387V550.8h-2.387ZM509.62 406.6h2.387V554.5h-2.387ZM512.01 411.3h2.387V557.4h-2.387ZM514.39 411.3h2.387V561.0h-2.387ZM516.78 411.3h2.387V563.4h-2.387ZM519.17 411.3h2.387V559.3h-2.387ZM521.56 399.1h2.387V552.7h-2.387ZM523.94 396.7h2.387V547.7h-2.387ZM526.33 394.3h2.387V541.2h-2.387ZM528.72 390.7h2.387V539.6h-2.387ZM531.11 388.4h2.387V539.6h-2.387ZM533.49 388.4h2.387V539.6h-2.387ZM535.88 393.8h2.387V539.6h-2.387ZM538.27 393.8h2.387V539.6h-2.387ZM540.65 393.8h2.387V539.6h-2.387ZM543.04 396.6h2.387V551.6h-2.387ZM545.43 401.1h2.387V551.6h-2.387ZM547.82 404.6h2.387V551.6h-2.387ZM550.20 409.8h2.387V551.6h-2.387ZM552.59 415.7h2.387V568.8h-2.387ZM554.98 428.0h2.387V577.1h-2.387ZM557.36 432.5h2.387V580.6h-2.387ZM559.75 438.2h2.387V586.0h-2.387ZM562.14 443.7h2.387V598.4h-2.387ZM564.52 448.8h2.387V606.5h-2.387ZM566.91 454.8h2.387V609.5h-2.387ZM569.30 459.5h2.387V612.1h-2.387ZM571.69 462.5h2.387V614.5h-2.387ZM574.07 466.5h2.387V620.6h-2.387ZM576.46 472.4h2.387V631.3h-2.387ZM578.85 482.1h2.387V635.7h-2.387ZM581.23 486.0h2.387V639.2h-2.387ZM583.62 490.6h2.387V643.6h-2.387ZM586.01 497.2h2.387V652.5h-2.387ZM588.40 507.9h2.387V660.5h-2.387ZM590.78 515.1h2.387V663.2h-2.387ZM593.17 515.9h2.387V663.2h-2.387ZM595.56 515.9h2.387V663.2h-2.387ZM597.94 506.0h2.387V650.4h-2.387ZM600.33 486.9h2.387V626.8h-2.387ZM602.72 471.4h2.387V614.8h-2.387ZM605.11 449.2h2.387V603.1h-2.387ZM607.49 435.7h2.387V589.3h-2.387ZM609.88 429.8h2.387V575.6h-2.387ZM612.27 429.8h2.387V575.6h-2.387ZM614.65 429.8h2.387V575.6h-2.387ZM617.04 429.8h2.387V575.6h-2.387ZM619.43 429.8h2.387V575.6h-2.387ZM621.82 416.6h2.387V575.6h-2.387ZM624.20 414.2h2.387V562.6h-2.387ZM626.59 411.8h2.387V551.6h-2.387ZM628.98 406.6h2.387V551.6h-2.387ZM631.37 403.2h2.387V551.6h-2.387ZM633.75 400.3h2.387V551.6h-2.387ZM636.14 400.3h2.387V551.6h-2.387ZM638.53 400.3h2.387V551.6h-2.387ZM640.91 403.8h2.387V551.6h-2.387ZM643.30 405.8h2.387V551.6h-2.387ZM645.69 405.8h2.387V551.6h-2.387ZM648.07 405.8h2.387V551.6h-2.387ZM650.46 405.8h2.387V551.6h-2.387ZM652.85 405.8h2.387V551.6h-2.387ZM655.24 405.8h2.387V551.6h-2.387ZM657.62 405.8h2.387V551.6h-2.387ZM660.01 400.3h2.387V551.6h-2.387ZM662.40 400.3h2.387V551.6h-2.387ZM664.78 400.3h2.387V551.6h-2.387ZM667.17 412.1h2.387V551.6h-2.387ZM669.56 419.2h2.387V551.6h-2.387ZM671.95 422.0h2.387V563.0h-2.387ZM674.33 426.1h2.387V574.1h-2.387ZM676.72 432.2h2.387V579.0h-2.387ZM679.11 441.1h2.387V584.4h-2.387ZM681.50 444.6h2.387V590.3h-2.387ZM683.88 447.2h2.387V594.5h-2.387ZM686.27 447.2h2.387V596.5h-2.387ZM688.66 447.2h2.387V598.5h-2.387ZM691.04 447.2h2.387V600.4h-2.387ZM693.43 447.2h2.387V601.9h-2.387ZM695.82 447.2h2.387V603.5h-2.387ZM698.20 447.2h2.387V606.7h-2.387ZM700.59 458.5h2.387V610.4h-2.387ZM702.98 462.9h2.387V610.4h-2.387ZM705.37 464.0h2.387V610.4h-2.387ZM707.75 464.0h2.387V610.4h-2.387ZM710.14 464.0h2.387V610.4h-2.387ZM712.53 464.0h2.387V610.4h-2.387ZM714.91 464.0h2.387V610.4h-2.387ZM717.30 464.0h2.387V610.4h-2.387ZM719.69 461.6h2.387V601.6h-2.387ZM722.08 450.5h2.387V582.9h-2.387ZM724.46 442.2h2.387V583.5h-2.387ZM726.85 436.7h2.387V584.1h-2.387ZM729.24 435.2h2.387V584.7h-2.387ZM731.62 435.2h2.387V585.3h-2.387ZM734.01 436.2h2.387V585.9h-2.387ZM736.40 441.7h2.387V587.4h-2.387ZM738.79 444.7h2.387V593.4h-2.387ZM741.17 447.7h2.387V599.0h-2.387ZM743.56 450.9h2.387V603.0h-2.387ZM745.95 470.4h2.387V612.1h-2.387ZM748.33 473.4h2.387V622.9h-2.387ZM750.72 476.4h2.387V626.9h-2.387ZM753.11 479.4h2.387V629.5h-2.387ZM755.50 482.3h2.387V631.2h-2.387ZM757.88 484.7h2.387V632.9h-2.387ZM760.27 487.1h2.387V635.3h-2.387ZM762.66 492.4h2.387V643.2h-2.387ZM765.04 499.4h2.387V651.8h-2.387ZM767.43 505.4h2.387V658.9h-2.387ZM769.82 512.4h2.387V676.3h-2.387ZM772.21 529.7h2.387V687.8h-2.387ZM774.59 540.0h2.387V695.0h-2.387ZM776.98 545.7h2.387V699.4h-2.387ZM779.37 548.7h2.387V701.8h-2.387ZM781.75 551.9h2.387V704.2h-2.387ZM784.14 557.8h2.387V708.2h-2.387ZM786.53 563.7h2.387V713.5h-2.387ZM788.92 567.7h2.387V719.6h-2.387ZM791.30 572.7h2.387V722.5h-2.387ZM793.69 578.2h2.387V725.4h-2.387ZM796.08 583.1h2.387V728.3h-2.387ZM798.46 586.4h2.387V731.3h-2.387ZM800.85 591.3h2.387V738.9h-2.387ZM803.24 597.3h2.387V748.4h-2.387ZM805.63 604.4h2.387V753.5h-2.387ZM808.01 610.4h2.387V756.7h-2.387ZM810.40 613.6h2.387V762.7h-2.387ZM812.79 615.2h2.387V762.7h-2.387ZM815.17 615.2h2.387V762.7h-2.387ZM817.56 615.2h2.387V762.7h-2.387ZM819.95 615.2h2.387V762.7h-2.387ZM822.34 610.4h2.387V756.7h-2.387ZM824.72 610.4h2.387V756.7h-2.387ZM827.11 610.4h2.387V756.7h-2.387ZM829.50 610.4h2.387V756.7h-2.387ZM831.88 610.4h2.387V756.7h-2.387ZM834.27 616.3h2.387V762.6h-2.387ZM836.66 622.3h2.387V765.6h-2.387ZM839.05 627.2h2.387V768.6h-2.387ZM841.43 627.2h2.387V773.4h-2.387ZM843.82 627.2h2.387V778.1h-2.387ZM846.21 627.2h2.387V773.3h-2.387ZM848.59 611.3h2.387V757.4h-2.387ZM850.98 584.8h2.387V733.9h-2.387ZM853.37 561.5h2.387V708.9h-2.387ZM855.76 532.2h2.387V681.2h-2.387ZM858.14 512.2h2.387V663.4h-2.387ZM860.53 494.1h2.387V643.1h-2.387ZM862.92 485.8h2.387V633.8h-2.387ZM865.30 478.5h2.387V626.1h-2.387ZM867.69 471.6h2.387V621.2h-2.387ZM870.08 470.1h2.387V619.4h-2.387ZM872.47 468.9h2.387V618.2h-2.387ZM874.85 465.9h2.387V617.0h-2.387ZM877.24 463.6h2.387V616.0h-2.387ZM879.63 463.6h2.387V616.0h-2.387ZM882.01 464.4h2.387V616.0h-2.387ZM884.40 473.2h2.387V619.9h-2.387ZM886.79 480.6h2.387V626.1h-2.387ZM889.18 480.6h2.387V627.1h-2.387ZM891.56 480.6h2.387V627.1h-2.387ZM893.95 480.6h2.387V627.1h-2.387ZM896.34 480.6h2.387V627.1h-2.387ZM898.72 480.6h2.387V627.1h-2.387ZM901.11 476.5h2.387V627.1h-2.387ZM903.50 469.0h2.387V621.9h-2.387ZM905.89 465.1h2.387V621.9h-2.387ZM908.27 474.0h2.387V621.9h-2.387ZM910.66 474.0h2.387V626.3h-2.387ZM913.05 474.0h2.387V627.1h-2.387ZM915.43 474.0h2.387V627.1h-2.387ZM917.82 468.8h2.387V611.4h-2.387ZM920.21 464.2h2.387V611.4h-2.387ZM922.60 468.9h2.387V611.4h-2.387ZM924.98 473.6h2.387V620.1h-2.387ZM927.37 479.5h2.387V624.8h-2.387ZM929.76 480.6h2.387V627.1h-2.387ZM932.14 480.6h2.387V627.1h-2.387ZM934.53 482.6h2.387V627.1h-2.387ZM936.92 492.3h2.387V627.1h-2.387ZM939.31 492.3h2.387V637.2h-2.387ZM941.69 492.3h2.387V640.2h-2.387ZM944.08 492.3h2.387V640.2h-2.387ZM946.47 496.5h2.387V640.9h-2.387ZM948.85 500.8h2.387V645.7h-2.387ZM951.24 504.0h2.387V650.6h-2.387ZM953.63 504.6h2.387V650.7h-2.387ZM956.02 505.0h2.387V650.7h-2.387Z" fill="#D95319" fill-opacity="0.05"/><path d="M128.87 167.9V321.4M136.03 193.2V344.7M164.68 305.6V456.0M167.07 313.5V475.9M176.61 325.6V475.9M186.16 305.9V452.9M190.94 301.5V444.2M210.03 282.5V430.1M229.13 307.4V454.5M231.52 311.1V456.9M233.91 311.8V459.3M260.16 318.0V462.9M264.94 318.0V470.1M272.10 312.0V470.1M298.36 323.6V469.6M305.52 323.6V478.6M317.46 353.6V499.7M322.23 361.3V505.7M336.55 389.2V539.5M348.49 415.8V564.0M374.75 364.2V506.2M403.39 364.7V511.0M415.33 364.9V514.1M424.88 392.8V539.4M429.65 399.8V544.8M434.43 387.8V545.4M448.75 393.2V540.0M465.46 399.8V549.1M477.39 387.8V541.7M534.69 388.4V539.6M539.46 393.8V539.6M580.04 482.1V635.7M584.82 490.6V643.6M587.20 497.2V652.5M589.59 507.9V660.5M603.91 471.4V614.8M618.24 429.8V575.6M627.78 411.8V551.6M630.17 406.6V551.6M642.11 403.8V551.6M649.27 405.8V551.6M654.04 405.8V551.6M658.82 405.8V551.6M687.46 447.2V596.5M694.62 447.2V601.9M720.88 461.6V601.6M766.24 499.4V651.8M768.63 505.4V658.9M782.95 551.9V704.2M794.88 578.2V725.4M799.66 586.4V731.3M802.05 591.3V738.9M811.59 613.6V762.7M825.92 610.4V756.7M842.63 627.2V773.4M849.79 611.3V757.4M856.95 532.2V681.2M859.34 512.2V663.4M864.11 485.8V633.8M885.60 473.2V619.9M909.47 474.0V621.9" stroke="#D95319" stroke-width="1.2" stroke-opacity="0.2" fill="none"/><path d="M105.00 88.2V233.5M109.77 100.5V249.3M124.10 151.0V299.1M126.48 160.5V307.0M140.81 206.7V360.6M145.58 224.3V382.0M155.13 272.3V427.3M157.52 279.5V432.9M159.90 287.8V440.9M162.29 297.3V447.1M174.23 324.9V475.9M179.00 324.8V475.9M200.49 282.9V430.1M236.29 311.8V461.7M262.55 318.0V465.3M274.49 312.0V458.9M279.26 312.0V458.9M284.04 318.8V464.8M303.13 323.6V476.2M350.88 416.5V550.6M358.04 364.1V502.5M360.42 355.0V500.7M372.36 364.2V506.2M405.78 364.7V511.0M408.17 364.8V511.0M410.55 364.8V511.0M422.49 389.8V535.8M427.26 399.8V542.4M436.81 387.8V545.4M455.91 393.2V540.0M475.01 387.8V551.9M503.65 392.1V529.1M515.59 411.3V561.0M522.75 399.1V552.7M532.30 388.4V539.6M537.07 393.8V539.6M541.85 393.8V539.6M568.11 454.8V609.5M575.27 466.5V620.6M577.65 472.4V631.3M582.43 486.0V639.2M591.98 515.1V663.2M594.36 515.9V663.2M646.88 405.8V551.6M677.91 432.2V579.0M682.69 444.6V590.3M689.85 447.2V598.5M697.01 447.2V603.5M704.17 462.9V610.4M718.50 464.0V610.4M730.43 435.2V584.7M737.59 441.7V587.4M739.98 444.7V593.4M759.08 484.7V632.9M761.46 487.1V635.3M771.01 512.4V676.3M778.17 545.7V699.4M780.56 548.7V701.8M797.27 583.1V728.3M833.08 610.4V756.7M837.85 622.3V765.6M840.24 627.2V768.6M866.50 478.5V626.1M868.89 471.6V621.2M876.05 465.9V617.0M916.63 474.0V627.1M923.79 468.9V611.4M942.89 492.3V640.2M950.05 500.8V645.7M954.82 504.6V650.7" stroke="#D95319" stroke-width="1.2" stroke-opacity="0.3" fill="none"/><path d="M114.55 112.5V265.8M121.71 144.1V292.2M133.65 185.5V338.5M143.19 219.6V371.4M193.32 295.0V433.6M212.42 282.4V430.1M217.20 290.3V430.1M226.74 304.5V452.1M276.87 312.0V458.9M288.81 322.6V466.4M307.91 329.7V480.9M310.29 337.6V486.0M315.07 350.1V496.7M324.62 363.0V508.1M329.39 371.2V518.9M331.78 374.4V528.7M341.33 397.9V549.0M353.26 397.6V534.6M367.59 364.1V506.2M377.13 364.3V506.2M401.01 364.7V519.6M417.72 370.9V520.9M470.23 399.8V552.0M479.78 387.8V538.1M482.17 387.8V535.2M486.94 388.0V534.5M489.33 392.7V540.3M494.10 391.8V534.5M501.27 385.1V529.1M517.98 411.3V563.4M520.36 411.3V559.3M525.14 396.7V547.7M527.52 394.3V541.2M529.91 390.7V539.6M611.07 429.8V575.6M615.85 429.8V575.6M651.66 405.8V551.6M673.14 422.0V563.0M675.53 426.1V574.1M692.24 447.2V600.4M701.79 458.5V610.4M742.37 447.7V599.0M756.69 482.3V631.2M775.79 540.0V695.0M785.34 557.8V708.2M790.11 567.7V719.6M792.50 572.7V722.5M813.98 615.2V762.7M818.76 615.2V762.7M828.30 610.4V756.7M835.47 616.3V762.6M854.56 561.5V708.9M861.72 494.1V643.1M873.66 468.9V618.2M890.37 480.6V627.1M904.69 469.0V621.9M907.08 465.1V621.9M911.85 474.0V626.3M933.34 480.6V627.1M940.50 492.3V637.2M945.27 492.3V640.2" stroke="#D95319" stroke-width="1.2" stroke-opacity="0.4" fill="none"/><path d="M116.94 121.8V274.0M147.97 232.0V392.5M150.36 244.4V406.0M152.74 262.2V424.2M181.39 311.9V471.2M188.55 303.7V449.4M195.71 286.0V430.1M221.97 298.5V442.0M241.07 311.7V460.9M245.84 310.9V453.6M248.23 306.2V452.3M267.33 318.0V470.1M286.42 320.7V465.6M291.20 323.6V467.2M338.94 394.4V544.4M355.65 374.8V516.0M379.52 364.3V506.2M391.46 364.5V506.2M393.84 364.5V509.1M443.97 393.2V542.6M453.52 393.2V540.0M460.68 393.2V540.0M467.85 399.8V552.0M472.62 399.8V552.0M491.72 393.8V535.1M506.04 399.3V538.9M544.23 396.6V551.6M546.62 401.1V551.6M551.40 409.8V551.6M553.78 415.7V568.8M556.17 428.0V577.1M558.56 432.5V580.6M560.94 438.2V586.0M563.33 443.7V598.4M565.72 448.8V606.5M572.88 462.5V614.5M596.75 515.9V663.2M601.53 486.9V626.8M613.46 429.8V575.6M620.62 429.8V575.6M663.59 400.3V551.6M668.37 412.1V551.6M708.95 464.0V610.4M711.33 464.0V610.4M716.11 464.0V610.4M723.27 450.5V582.9M725.66 442.2V583.5M732.82 435.2V585.3M744.75 450.9V603.0M749.53 473.4V622.9M754.30 479.4V629.5M773.40 529.7V687.8M806.82 604.4V753.5M830.69 610.4V756.7M883.21 464.4V616.0M895.14 480.6V627.1M897.53 480.6V627.1M928.56 479.5V624.8M947.66 496.5V640.9" stroke="#D95319" stroke-width="1.2" stroke-opacity="0.5" fill="none"/><path d="M107.39 95.4V240.6M119.32 133.5V283.6M131.26 176.5V332.6M138.42 200.2V351.2M183.78 308.8V458.7M202.87 282.8V430.1M205.26 282.7V430.1M219.58 294.2V430.1M224.36 301.9V448.9M243.45 311.4V457.5M250.62 306.2V452.3M257.78 315.8V461.5M269.71 315.4V470.1M281.65 313.9V462.6M300.75 323.6V470.4M319.84 359.6V502.7M327.00 364.7V510.5M334.17 380.5V535.8M346.10 412.7V559.9M369.97 364.1V506.2M381.91 364.3V506.2M386.68 364.4V506.2M389.07 364.5V506.2M396.23 364.6V519.7M412.94 364.9V511.0M420.10 383.6V528.9M432.04 399.8V545.4M439.20 387.8V545.4M441.59 393.1V545.4M458.30 393.2V540.0M484.56 387.8V534.5M498.88 383.1V529.1M508.43 400.4V550.8M510.81 406.6V554.5M570.49 459.5V612.1M599.14 506.0V650.4M606.30 449.2V603.1M608.69 435.7V589.3M625.40 414.2V562.6M637.33 400.3V551.6M639.72 400.3V551.6M644.49 405.8V551.6M656.43 405.8V551.6M661.20 400.3V551.6M665.98 400.3V551.6M680.30 441.1V584.4M685.08 447.2V594.5M699.40 447.2V606.7M706.56 464.0V610.4M713.72 464.0V610.4M728.04 436.7V584.1M751.92 476.4V626.9M763.85 492.4V643.2M787.72 563.7V713.5M804.43 597.3V748.4M809.21 610.4V756.7M845.01 627.2V778.1M852.18 584.8V733.9M887.98 480.6V626.1M892.76 480.6V627.1M899.92 480.6V627.1M902.31 476.5V627.1M914.24 474.0V627.1M919.02 468.8V611.4M921.40 464.2V611.4M926.18 473.6V620.1M935.73 482.6V627.1M938.11 492.3V627.1M952.44 504.0V650.6M957.21 505.0V650.7" stroke="#D95319" stroke-width="1.2" stroke-opacity="0.6" fill="none"/><path d="M112.16 106.3V257.6M169.45 319.0V475.9M171.84 324.2V475.9M198.10 283.0V430.1M207.65 282.6V430.1M214.81 282.3V430.1M238.68 311.8V464.1M253.00 306.2V458.3M255.39 310.9V460.2M293.58 323.6V468.0M295.97 323.6V468.8M312.68 345.9V493.8M343.71 405.5V553.8M362.81 357.1V500.7M365.20 364.1V500.7M384.30 364.4V506.2M398.62 364.6V523.0M446.36 393.2V540.0M451.14 393.2V540.0M463.07 397.8V545.5M496.49 387.5V532.8M513.20 411.3V557.4M549.01 404.6V551.6M623.01 416.6V575.6M632.56 403.2V551.6M634.95 400.3V551.6M670.75 419.2V551.6M735.21 436.2V585.9M747.14 470.4V612.1M816.37 615.2V762.7M821.14 615.2V762.7M823.53 610.4V756.7M847.40 627.2V773.3M871.27 470.1V619.4M878.43 463.6V616.0M880.82 463.6V616.0M930.95 480.6V627.1" stroke="#D95319" stroke-width="1.2" stroke-opacity="0.7" fill="none"/><path d="M100.50 88.2h9.0M100.50 233.5h9.0M102.89 95.4h9.0M102.89 240.6h9.0M105.27 100.5h9.0M105.27 249.3h9.0M107.66 106.3h9.0M107.66 257.6h9.0M110.05 112.5h9.0M110.05 265.8h9.0M112.44 121.8h9.0M112.44 274.0h9.0M114.82 133.5h9.0M114.82 283.6h9.0M117.21 144.1h9.0M117.21 292.2h9.0M119.60 151.0h9.0M119.60 299.1h9.0M121.98 160.5h9.0M121.98 307.0h9.0M124.37 167.9h9.0M124.37 321.4h9.0M126.76 176.5h9.0M126.76 332.6h9.0M129.15 185.5h9.0M129.15 338.5h9.0M131.53 193.2h9.0M131.53 344.7h9.0M133.92 200.2h9.0M133.92 351.2h9.0M136.31 206.7h9.0M136.31 360.6h9.0M138.69 219.6h9.0M138.69 371.4h9.0M141.08 224.3h9.0M141.08 382.0h9.0M143.47 232.0h9.0M143.47 392.5h9.0M145.86 244.4h9.0M145.86 406.0h9.0M148.24 262.2h9.0M148.24 424.2h9.0M150.63 272.3h9.0M150.63 427.3h9.0M153.02 279.5h9.0M153.02 432.9h9.0M155.40 287.8h9.0M155.40 440.9h9.0M157.79 297.3h9.0M157.79 447.1h9.0M160.18 305.6h9.0M160.18 456.0h9.0M162.57 313.5h9.0M162.57 475.9h9.0M164.95 319.0h9.0M164.95 475.9h9.0M167.34 324.2h9.0M167.34 475.9h9.0M169.73 324.9h9.0M169.73 475.9h9.0M172.11 325.6h9.0M172.11 475.9h9.0M174.50 324.8h9.0M174.50 475.9h9.0M176.89 311.9h9.0M176.89 471.2h9.0M179.28 308.8h9.0M179.28 458.7h9.0M181.66 305.9h9.0M181.66 452.9h9.0M184.05 303.7h9.0M184.05 449.4h9.0M186.44 301.5h9.0M186.44 444.2h9.0M188.82 295.0h9.0M188.82 433.6h9.0M191.21 286.0h9.0M191.21 430.1h9.0M193.60 283.0h9.0M193.60 430.1h9.0M195.99 282.9h9.0M195.99 430.1h9.0M198.37 282.8h9.0M198.37 430.1h9.0M200.76 282.7h9.0M200.76 430.1h9.0M203.15 282.6h9.0M203.15 430.1h9.0M205.53 282.5h9.0M205.53 430.1h9.0M207.92 282.4h9.0M207.92 430.1h9.0M210.31 282.3h9.0M210.31 430.1h9.0M212.70 290.3h9.0M212.70 430.1h9.0M215.08 294.2h9.0M215.08 430.1h9.0M217.47 298.5h9.0M217.47 442.0h9.0M219.86 301.9h9.0M219.86 448.9h9.0M222.24 304.5h9.0M222.24 452.1h9.0M224.63 307.4h9.0M224.63 454.5h9.0M227.02 311.1h9.0M227.02 456.9h9.0M229.41 311.8h9.0M229.41 459.3h9.0M231.79 311.8h9.0M231.79 461.7h9.0M234.18 311.8h9.0M234.18 464.1h9.0M236.57 311.7h9.0M236.57 460.9h9.0M238.95 311.4h9.0M238.95 457.5h9.0M241.34 310.9h9.0M241.34 453.6h9.0M243.73 306.2h9.0M243.73 452.3h9.0M246.12 306.2h9.0M246.12 452.3h9.0M248.50 306.2h9.0M248.50 458.3h9.0M250.89 310.9h9.0M250.89 460.2h9.0M253.28 315.8h9.0M253.28 461.5h9.0M255.66 318.0h9.0M255.66 462.9h9.0M258.05 318.0h9.0M258.05 465.3h9.0M260.44 318.0h9.0M260.44 470.1h9.0M262.83 318.0h9.0M262.83 470.1h9.0M265.21 315.4h9.0M265.21 470.1h9.0M267.60 312.0h9.0M267.60 470.1h9.0M269.99 312.0h9.0M269.99 458.9h9.0M272.37 312.0h9.0M272.37 458.9h9.0M274.76 312.0h9.0M274.76 458.9h9.0M277.15 313.9h9.0M277.15 462.6h9.0M279.54 318.8h9.0M279.54 464.8h9.0M281.92 320.7h9.0M281.92 465.6h9.0M284.31 322.6h9.0M284.31 466.4h9.0M286.70 323.6h9.0M286.70 467.2h9.0M289.08 323.6h9.0M289.08 468.0h9.0M291.47 323.6h9.0M291.47 468.8h9.0M293.86 323.6h9.0M293.86 469.6h9.0M296.25 323.6h9.0M296.25 470.4h9.0M298.63 323.6h9.0M298.63 476.2h9.0M301.02 323.6h9.0M301.02 478.6h9.0M303.41 329.7h9.0M303.41 480.9h9.0M305.79 337.6h9.0M305.79 486.0h9.0M308.18 345.9h9.0M308.18 493.8h9.0M310.57 350.1h9.0M310.57 496.7h9.0M312.96 353.6h9.0M312.96 499.7h9.0M315.34 359.6h9.0M315.34 502.7h9.0M317.73 361.3h9.0M317.73 505.7h9.0M320.12 363.0h9.0M320.12 508.1h9.0M322.50 364.7h9.0M322.50 510.5h9.0M324.89 371.2h9.0M324.89 518.9h9.0M327.28 374.4h9.0M327.28 528.7h9.0M329.67 380.5h9.0M329.67 535.8h9.0M332.05 389.2h9.0M332.05 539.5h9.0M334.44 394.4h9.0M334.44 544.4h9.0M336.83 397.9h9.0M336.83 549.0h9.0M339.21 405.5h9.0M339.21 553.8h9.0M341.60 412.7h9.0M341.60 559.9h9.0M343.99 415.8h9.0M343.99 564.0h9.0M346.38 416.5h9.0M346.38 550.6h9.0M348.76 397.6h9.0M348.76 534.6h9.0M351.15 374.8h9.0M351.15 516.0h9.0M353.54 364.1h9.0M353.54 502.5h9.0M355.92 355.0h9.0M355.92 500.7h9.0M358.31 357.1h9.0M358.31 500.7h9.0M360.70 364.1h9.0M360.70 500.7h9.0M363.09 364.1h9.0M363.09 506.2h9.0M365.47 364.1h9.0M365.47 506.2h9.0M367.86 364.2h9.0M367.86 506.2h9.0M370.25 364.2h9.0M370.25 506.2h9.0M372.63 364.3h9.0M372.63 506.2h9.0M375.02 364.3h9.0M375.02 506.2h9.0M377.41 364.3h9.0M377.41 506.2h9.0M379.80 364.4h9.0M379.80 506.2h9.0M382.18 364.4h9.0M382.18 506.2h9.0M384.57 364.5h9.0M384.57 506.2h9.0M386.96 364.5h9.0M386.96 506.2h9.0M389.34 364.5h9.0M389.34 509.1h9.0M391.73 364.6h9.0M391.73 519.7h9.0M394.12 364.6h9.0M394.12 523.0h9.0M396.51 364.7h9.0M396.51 519.6h9.0M398.89 364.7h9.0M398.89 511.0h9.0M401.28 364.7h9.0M401.28 511.0h9.0M403.67 364.8h9.0M403.67 511.0h9.0M406.05 364.8h9.0M406.05 511.0h9.0M408.44 364.9h9.0M408.44 511.0h9.0M410.83 364.9h9.0M410.83 514.1h9.0M413.22 370.9h9.0M413.22 520.9h9.0M415.60 383.6h9.0M415.60 528.9h9.0M417.99 389.8h9.0M417.99 535.8h9.0M420.38 392.8h9.0M420.38 539.4h9.0M422.76 399.8h9.0M422.76 542.4h9.0M425.15 399.8h9.0M425.15 544.8h9.0M427.54 399.8h9.0M427.54 545.4h9.0M429.93 387.8h9.0M429.93 545.4h9.0M432.31 387.8h9.0M432.31 545.4h9.0M434.70 387.8h9.0M434.70 545.4h9.0M437.09 393.1h9.0M437.09 545.4h9.0M439.47 393.2h9.0M439.47 542.6h9.0M441.86 393.2h9.0M441.86 540.0h9.0M444.25 393.2h9.0M444.25 540.0h9.0M446.64 393.2h9.0M446.64 540.0h9.0M449.02 393.2h9.0M449.02 540.0h9.0M451.41 393.2h9.0M451.41 540.0h9.0M453.80 393.2h9.0M453.80 540.0h9.0M456.18 393.2h9.0M456.18 540.0h9.0M458.57 397.8h9.0M458.57 545.5h9.0M460.96 399.8h9.0M460.96 549.1h9.0M463.35 399.8h9.0M463.35 552.0h9.0M465.73 399.8h9.0M465.73 552.0h9.0M468.12 399.8h9.0M468.12 552.0h9.0M470.51 387.8h9.0M470.51 551.9h9.0M472.89 387.8h9.0M472.89 541.7h9.0M475.28 387.8h9.0M475.28 538.1h9.0M477.67 387.8h9.0M477.67 535.2h9.0M480.06 387.8h9.0M480.06 534.5h9.0M482.44 388.0h9.0M482.44 534.5h9.0M484.83 392.7h9.0M484.83 540.3h9.0M487.22 393.8h9.0M487.22 535.1h9.0M489.60 391.8h9.0M489.60 534.5h9.0M491.99 387.5h9.0M491.99 532.8h9.0M494.38 383.1h9.0M494.38 529.1h9.0M496.77 385.1h9.0M496.77 529.1h9.0M499.15 392.1h9.0M499.15 529.1h9.0M501.54 399.3h9.0M501.54 538.9h9.0M503.93 400.4h9.0M503.93 550.8h9.0M506.31 406.6h9.0M506.31 554.5h9.0M508.70 411.3h9.0M508.70 557.4h9.0M511.09 411.3h9.0M511.09 561.0h9.0M513.48 411.3h9.0M513.48 563.4h9.0M515.86 411.3h9.0M515.86 559.3h9.0M518.25 399.1h9.0M518.25 552.7h9.0M520.64 396.7h9.0M520.64 547.7h9.0M523.02 394.3h9.0M523.02 541.2h9.0M525.41 390.7h9.0M525.41 539.6h9.0M527.80 388.4h9.0M527.80 539.6h9.0M530.19 388.4h9.0M530.19 539.6h9.0M532.57 393.8h9.0M532.57 539.6h9.0M534.96 393.8h9.0M534.96 539.6h9.0M537.35 393.8h9.0M537.35 539.6h9.0M539.73 396.6h9.0M539.73 551.6h9.0M542.12 401.1h9.0M542.12 551.6h9.0M544.51 404.6h9.0M544.51 551.6h9.0M546.90 409.8h9.0M546.90 551.6h9.0M549.28 415.7h9.0M549.28 568.8h9.0M551.67 428.0h9.0M551.67 577.1h9.0M554.06 432.5h9.0M554.06 580.6h9.0M556.44 438.2h9.0M556.44 586.0h9.0M558.83 443.7h9.0M558.83 598.4h9.0M561.22 448.8h9.0M561.22 606.5h9.0M563.61 454.8h9.0M563.61 609.5h9.0M565.99 459.5h9.0M565.99 612.1h9.0M568.38 462.5h9.0M568.38 614.5h9.0M570.77 466.5h9.0M570.77 620.6h9.0M573.15 472.4h9.0M573.15 631.3h9.0M575.54 482.1h9.0M575.54 635.7h9.0M577.93 486.0h9.0M577.93 639.2h9.0M580.32 490.6h9.0M580.32 643.6h9.0M582.70 497.2h9.0M582.70 652.5h9.0M585.09 507.9h9.0M585.09 660.5h9.0M587.48 515.1h9.0M587.48 663.2h9.0M589.86 515.9h9.0M589.86 663.2h9.0M592.25 515.9h9.0M592.25 663.2h9.0M594.64 506.0h9.0M594.64 650.4h9.0M597.03 486.9h9.0M597.03 626.8h9.0M599.41 471.4h9.0M599.41 614.8h9.0M601.80 449.2h9.0M601.80 603.1h9.0M604.19 435.7h9.0M604.19 589.3h9.0M606.57 429.8h9.0M606.57 575.6h9.0M608.96 429.8h9.0M608.96 575.6h9.0M611.35 429.8h9.0M611.35 575.6h9.0M613.74 429.8h9.0M613.74 575.6h9.0M616.12 429.8h9.0M616.12 575.6h9.0M618.51 416.6h9.0M618.51 575.6h9.0M620.90 414.2h9.0M620.90 562.6h9.0M623.28 411.8h9.0M623.28 551.6h9.0M625.67 406.6h9.0M625.67 551.6h9.0M628.06 403.2h9.0M628.06 551.6h9.0M630.45 400.3h9.0M630.45 551.6h9.0M632.83 400.3h9.0M632.83 551.6h9.0M635.22 400.3h9.0M635.22 551.6h9.0M637.61 403.8h9.0M637.61 551.6h9.0M639.99 405.8h9.0M639.99 551.6h9.0M642.38 405.8h9.0M642.38 551.6h9.0M644.77 405.8h9.0M644.77 551.6h9.0M647.16 405.8h9.0M647.16 551.6h9.0M649.54 405.8h9.0M649.54 551.6h9.0M651.93 405.8h9.0M651.93 551.6h9.0M654.32 405.8h9.0M654.32 551.6h9.0M656.70 400.3h9.0M656.70 551.6h9.0M659.09 400.3h9.0M659.09 551.6h9.0M661.48 400.3h9.0M661.48 551.6h9.0M663.87 412.1h9.0M663.87 551.6h9.0M666.25 419.2h9.0M666.25 551.6h9.0M668.64 422.0h9.0M668.64 563.0h9.0M671.03 426.1h9.0M671.03 574.1h9.0M673.41 432.2h9.0M673.41 579.0h9.0M675.80 441.1h9.0M675.80 584.4h9.0M678.19 444.6h9.0M678.19 590.3h9.0M680.58 447.2h9.0M680.58 594.5h9.0M682.96 447.2h9.0M682.96 596.5h9.0M685.35 447.2h9.0M685.35 598.5h9.0M687.74 447.2h9.0M687.74 600.4h9.0M690.12 447.2h9.0M690.12 601.9h9.0M692.51 447.2h9.0M692.51 603.5h9.0M694.90 447.2h9.0M694.90 606.7h9.0M697.29 458.5h9.0M697.29 610.4h9.0M699.67 462.9h9.0M699.67 610.4h9.0M702.06 464.0h9.0M702.06 610.4h9.0M704.45 464.0h9.0M704.45 610.4h9.0M706.83 464.0h9.0M706.83 610.4h9.0M709.22 464.0h9.0M709.22 610.4h9.0M711.61 464.0h9.0M711.61 610.4h9.0M714.00 464.0h9.0M714.00 610.4h9.0M716.38 461.6h9.0M716.38 601.6h9.0M718.77 450.5h9.0M718.77 582.9h9.0M721.16 442.2h9.0M721.16 583.5h9.0M723.54 436.7h9.0M723.54 584.1h9.0M725.93 435.2h9.0M725.93 584.7h9.0M728.32 435.2h9.0M728.32 585.3h9.0M730.71 436.2h9.0M730.71 585.9h9.0M733.09 441.7h9.0M733.09 587.4h9.0M735.48 444.7h9.0M735.48 593.4h9.0M737.87 447.7h9.0M737.87 599.0h9.0M740.25 450.9h9.0M740.25 603.0h9.0M742.64 470.4h9.0M742.64 612.1h9.0M745.03 473.4h9.0M745.03 622.9h9.0M747.42 476.4h9.0M747.42 626.9h9.0M749.80 479.4h9.0M749.80 629.5h9.0M752.19 482.3h9.0M752.19 631.2h9.0M754.58 484.7h9.0M754.58 632.9h9.0M756.96 487.1h9.0M756.96 635.3h9.0M759.35 492.4h9.0M759.35 643.2h9.0M761.74 499.4h9.0M761.74 651.8h9.0M764.13 505.4h9.0M764.13 658.9h9.0M766.51 512.4h9.0M766.51 676.3h9.0M768.90 529.7h9.0M768.90 687.8h9.0M771.29 540.0h9.0M771.29 695.0h9.0M773.67 545.7h9.0M773.67 699.4h9.0M776.06 548.7h9.0M776.06 701.8h9.0M778.45 551.9h9.0M778.45 704.2h9.0M780.84 557.8h9.0M780.84 708.2h9.0M783.22 563.7h9.0M783.22 713.5h9.0M785.61 567.7h9.0M785.61 719.6h9.0M788.00 572.7h9.0M788.00 722.5h9.0M790.38 578.2h9.0M790.38 725.4h9.0M792.77 583.1h9.0M792.77 728.3h9.0M795.16 586.4h9.0M795.16 731.3h9.0M797.55 591.3h9.0M797.55 738.9h9.0M799.93 597.3h9.0M799.93 748.4h9.0M802.32 604.4h9.0M802.32 753.5h9.0M804.71 610.4h9.0M804.71 756.7h9.0M807.09 613.6h9.0M807.09 762.7h9.0M809.48 615.2h9.0M809.48 762.7h9.0M811.87 615.2h9.0M811.87 762.7h9.0M814.26 615.2h9.0M814.26 762.7h9.0M816.64 615.2h9.0M816.64 762.7h9.0M819.03 610.4h9.0M819.03 756.7h9.0M821.42 610.4h9.0M821.42 756.7h9.0M823.80 610.4h9.0M823.80 756.7h9.0M826.19 610.4h9.0M826.19 756.7h9.0M828.58 610.4h9.0M828.58 756.7h9.0M830.97 616.3h9.0M830.97 762.6h9.0M833.35 622.3h9.0M833.35 765.6h9.0M835.74 627.2h9.0M835.74 768.6h9.0M838.13 627.2h9.0M838.13 773.4h9.0M840.51 627.2h9.0M840.51 778.1h9.0M842.90 627.2h9.0M842.90 773.3h9.0M845.29 611.3h9.0M845.29 757.4h9.0M847.68 584.8h9.0M847.68 733.9h9.0M850.06 561.5h9.0M850.06 708.9h9.0M852.45 532.2h9.0M852.45 681.2h9.0M854.84 512.2h9.0M854.84 663.4h9.0M857.22 494.1h9.0M857.22 643.1h9.0M859.61 485.8h9.0M859.61 633.8h9.0M862.00 478.5h9.0M862.00 626.1h9.0M864.39 471.6h9.0M864.39 621.2h9.0M866.77 470.1h9.0M866.77 619.4h9.0M869.16 468.9h9.0M869.16 618.2h9.0M871.55 465.9h9.0M871.55 617.0h9.0M873.93 463.6h9.0M873.93 616.0h9.0M876.32 463.6h9.0M876.32 616.0h9.0M878.71 464.4h9.0M878.71 616.0h9.0M881.10 473.2h9.0M881.10 619.9h9.0M883.48 480.6h9.0M883.48 626.1h9.0M885.87 480.6h9.0M885.87 627.1h9.0M888.26 480.6h9.0M888.26 627.1h9.0M890.64 480.6h9.0M890.64 627.1h9.0M893.03 480.6h9.0M893.03 627.1h9.0M895.42 480.6h9.0M895.42 627.1h9.0M897.81 476.5h9.0M897.81 627.1h9.0M900.19 469.0h9.0M900.19 621.9h9.0M902.58 465.1h9.0M902.58 621.9h9.0M904.97 474.0h9.0M904.97 621.9h9.0M907.35 474.0h9.0M907.35 626.3h9.0M909.74 474.0h9.0M909.74 627.1h9.0M912.13 474.0h9.0M912.13 627.1h9.0M914.52 468.8h9.0M914.52 611.4h9.0M916.90 464.2h9.0M916.90 611.4h9.0M919.29 468.9h9.0M919.29 611.4h9.0M921.68 473.6h9.0M921.68 620.1h9.0M924.06 479.5h9.0M924.06 624.8h9.0M926.45 480.6h9.0M926.45 627.1h9.0M928.84 480.6h9.0M928.84 627.1h9.0M931.23 482.6h9.0M931.23 627.1h9.0M933.61 492.3h9.0M933.61 627.1h9.0M936.00 492.3h9.0M936.00 637.2h9.0M938.39 492.3h9.0M938.39 640.2h9.0M940.77 492.3h9.0M940.77 640.2h9.0M943.16 496.5h9.0M943.16 640.9h9.0M945.55 500.8h9.0M945.55 645.7h9.0M947.94 504.0h9.0M947.94 650.6h9.0M950.32 504.6h9.0M950.32 650.7h9.0M952.71 505.0h9.0M952.71 650.7h9.0" stroke="#D95319" stroke-width="1.0" stroke-opacity="0.8" fill="none"/><polyline points="103.3,158.7 106.5,165.3 109.8,171.8 112.0,179.4 115.3,189.3 118.0,198.0 120.2,206.7 121.8,214.3 125.1,231.8 128.4,234.0 131.6,250.0 132.7,256.4 137.1,265.2 141.4,282.6 148.0,313.1 151.3,322.0 157.8,348.1 164.3,372.1 169.8,402.5 177.4,403.0 182.9,385.4 187.2,380.0 191.6,377.8 196.0,358.1 214.5,356.9 218.9,367.8 225.4,378.7 230.9,380.9 237.4,389.6 243.0,384.0 249.4,380.9 253.8,389.6 258.1,386.3 264.7,397.2 271.2,397.2 274.5,386.3 279.0,386.3 283.2,396.1 286.5,391.8 289.7,396.5 297.6,396.5 299.8,392.2 304.2,402.0 309.6,404.2 316.2,424.9 319.4,427.1 324.9,438.0 328.2,440.1 333.6,459.8 335.8,460.9 347.8,490.3 353.2,469.6 357.6,434.7 360.9,427.1 364.2,433.6 367.4,443.4 370.5,440.0 374.0,432.5 377.2,434.7 379.4,438.0 386.0,438.0 389.2,432.5 392.5,434.7 398.0,448.9 402.3,438.0 412.1,438.0 415.4,443.4 419.8,460.9 424.1,465.2 429.6,472.9 434.0,472.9 437.2,462.0 440.5,464.0 443.8,471.8 447.0,467.4 459.0,467.4 465.6,474.0 468.8,479.4 472.1,478.3 476.5,462.0 481.9,462.0 484.4,462.5 488.7,472.3 493.1,466.9 497.4,461.4 500.7,456.0 502.9,460.3 507.3,476.7 512.7,479.5 517.1,489.8 522.5,477.8 526.9,468.0 532.3,461.4 536.7,472.3 540.0,466.9 543.2,470.1 547.6,478.9 550.9,480.0 555.2,500.7 558.5,504.0 567.2,530.1 571.6,536.7 576.0,537.2 580.8,554.0 586.8,568.4 592.8,588.8 597.6,585.2 602.4,556.4 607.2,530.0 610.9,502.9 619.6,502.9 625.0,484.3 628.3,479.5 633.8,478.9 638.1,473.4 642.5,478.9 659.9,478.9 664.3,473.4 667.6,476.7 671.9,493.0 676.0,502.4 682.0,519.2 689.2,519.2 692.8,525.2 697.6,519.2 703.6,537.2 718.0,537.2 724.0,516.8 728.8,508.4 733.6,509.6 737.2,519.2 742.0,520.4 746.8,531.2 752.8,552.7 760.0,555.1 764.8,564.7 766.0,572.0 770.8,584.0 775.6,612.8 780.4,623.6 782.8,626.0 788.8,640.4 793.6,652.4 798.4,656.0 808.0,678.8 814.0,688.4 821.2,688.4 824.7,683.6 833.1,683.6 838.7,696.7 843.1,705.4 847.4,698.8 850.7,681.4 854.0,650.9 857.3,613.8 860.5,585.4 863.8,568.0 867.1,552.7 870.3,544.0 874.7,542.9 879.1,541.8 882.3,537.4 884.5,541.0 887.8,553.8 901.5,553.8 906.7,538.1 910.7,553.8 914.6,553.8 919.8,538.1 923.7,538.1 929.0,553.8 935.5,555.2 938.1,565.6 946.0,566.9 951.2,576.1 956.5,578.7" stroke="#FF0000" stroke-width="4.5" fill="none" stroke-linejoin="round" stroke-linecap="round"/><polyline points="104.9,157.6 108.7,158.2 110.9,162.0 114.2,164.2 118.0,172.9 121.8,181.6 126.2,192.5 130.5,202.3 133.8,211.1 137.1,220.9 140.3,223.1 143.6,229.6 145.8,236.2 146.9,243.8 151.3,245.5 155.6,260.8 158.9,264.6 163.3,268.4 167.6,282.6 172.5,295.7 180.7,296.8 186.2,282.1 189.4,280.2 197.1,280.2 202.5,269.6 213.4,269.6 218.9,279.4 227.6,286.0 230.9,280.5 248.3,280.5 251.6,290.3 254.9,280.5 258.0,280.5 262.5,286.0 266.8,280.5 276.0,280.5 278.8,275.1 282.1,279.4 287.6,275.1 294.1,275.1 297.6,280.3 310.7,280.3 315.1,291.2 332.5,292.3 336.9,297.8 342.3,303.2 346.7,297.8 350.0,292.3 354.3,291.2 357.6,281.4 366.3,280.3 370.7,274.9 376.2,274.9 379.4,280.3 383.0,281.0 386.0,285.8 389.2,280.3 391.5,280.3 394.3,285.8 398.0,280.3 429.6,280.3 432.9,285.8 436.1,280.3 449.2,280.3 452.5,274.9 455.8,280.3 462.3,280.3 465.6,285.8 469.9,280.3 475.4,274.9 480.8,280.3 486.3,280.3 489.6,274.9 495.5,274.9 499.8,284.7 503.1,291.2 506.4,286.9 509.6,292.3 515.1,292.3 518.4,286.9 529.3,286.9 531.4,291.2 534.7,286.9 538.0,290.1 541.3,286.9 547.8,293.4 550.0,297.8 563.1,297.8 566.3,310.9 569.6,325.0 572.9,328.3 576.2,343.6 579.4,361.0 581.6,366.5 584.2,362.1 587.1,368.7 590.3,373.0 592.5,367.6 596.9,343.6 602.3,324.0 607.8,310.9 613.2,309.8 620.9,293.4 626.3,292.3 631.8,297.8 634.5,299.0 638.3,304.3 641.6,303.2 644.9,297.8 651.4,297.8 654.7,292.3 677.6,292.3 681.9,297.8 686.3,303.2 690.0,298.5 692.2,302.1 696.5,327.2 710.7,327.2 714.0,321.8 729.3,321.8 732.5,327.2 742.3,327.2 745.6,332.7 752.2,332.7 755.4,327.9 758.7,331.6 764.2,333.8 769.6,341.4 774.0,346.8 776.2,355.6 791.4,355.6 796.9,366.5 800.0,367.0 802.3,356.7 805.0,358.0 807.8,367.6 813.2,373.0 818.7,367.6 820.9,356.7 844.9,356.7 848.1,361.0 852.4,357.4 855.6,361.8 863.3,340.0 867.6,336.7 870.9,329.1 876.4,326.9 880.7,311.6 882.9,310.5 886.2,314.9 892.7,316.0 896.0,321.4 899.3,316.0 904.7,316.0 908.0,321.4 916.7,321.4 918.9,316.0 923.2,321.4 926.5,326.9 939.6,326.9 942.9,321.4 951.6,321.4 956.0,326.9" stroke="#0000FF" stroke-width="4.5" fill="none" stroke-linejoin="round" stroke-linecap="round"/>
<path d="M105 11.9H965" stroke="#c8c8c8" stroke-width="1.6" fill="none"/><path d="M105 11.9V829.7" stroke="#c2c2c2" stroke-width="1.8" fill="none"/><path d="M965 11.9V829.7" stroke="#b0b0b0" stroke-width="1.6" fill="none"/><path d="M104.2 829.7H965.8" stroke="#8a8a8a" stroke-width="1.6" fill="none"/><path d="M224.36 829.7v-8.2M224.36 11.9v8.2M343.71 829.7v-8.2M343.71 11.9v8.2M463.07 829.7v-8.2M463.07 11.9v8.2M582.43 829.7v-8.2M582.43 11.9v8.2M701.79 829.7v-8.2M701.79 11.9v8.2M821.14 829.7v-8.2M821.14 11.9v8.2M940.50 829.7v-8.2M940.50 11.9v8.2M105 712.88h8.2M965 712.88h-8.2M105 596.06h8.2M965 596.06h-8.2M105 479.24h8.2M965 479.24h-8.2M105 362.42h8.2M965 362.42h-8.2M105 245.60h8.2M965 245.60h-8.2M105 128.78h8.2M965 128.78h-8.2" stroke="#777" stroke-width="1.1" fill="none"/>
<g font-size="28" fill="#000"><text x="95.5" y="839.8" text-anchor="end">8</text><text x="95.5" y="723.0" text-anchor="end">10</text><text x="95.5" y="606.2" text-anchor="end">12</text><text x="95.5" y="489.3" text-anchor="end">14</text><text x="95.5" y="372.5" text-anchor="end">16</text><text x="95.5" y="255.7" text-anchor="end">18</text><text x="95.5" y="138.9" text-anchor="end">20</text><text x="95.5" y="22.1" text-anchor="end">22</text><text x="105.0" y="864.2" text-anchor="middle">0</text><text x="224.4" y="864.2" text-anchor="middle">50</text><text x="343.7" y="864.2" text-anchor="middle">100</text><text x="463.1" y="864.2" text-anchor="middle">150</text><text x="582.4" y="864.2" text-anchor="middle">200</text><text x="701.8" y="864.2" text-anchor="middle">250</text><text x="821.1" y="864.2" text-anchor="middle">300</text><text x="940.5" y="864.2" text-anchor="middle">350</text></g>
<text x="474.0" y="913.2" font-size="35" fill="#000" letter-spacing="0.75">Time/s</text>
<g transform="translate(31.7,0) rotate(-90)" font-size="35" fill="#000"><text y="0"><tspan x="-560.5" letter-spacing="0.6">Temperature/</tspan> <tspan x="-336.0">°</tspan> <tspan x="-307.5">C</tspan></text></g>
<text x="626.0" y="191.7" font-size="33.5" fill="#0000FF">Loop 4</text>
<text x="397.0" y="605.1" font-size="33.5" fill="#FF0000">Loop 1</text>
</svg>
</body></html>
